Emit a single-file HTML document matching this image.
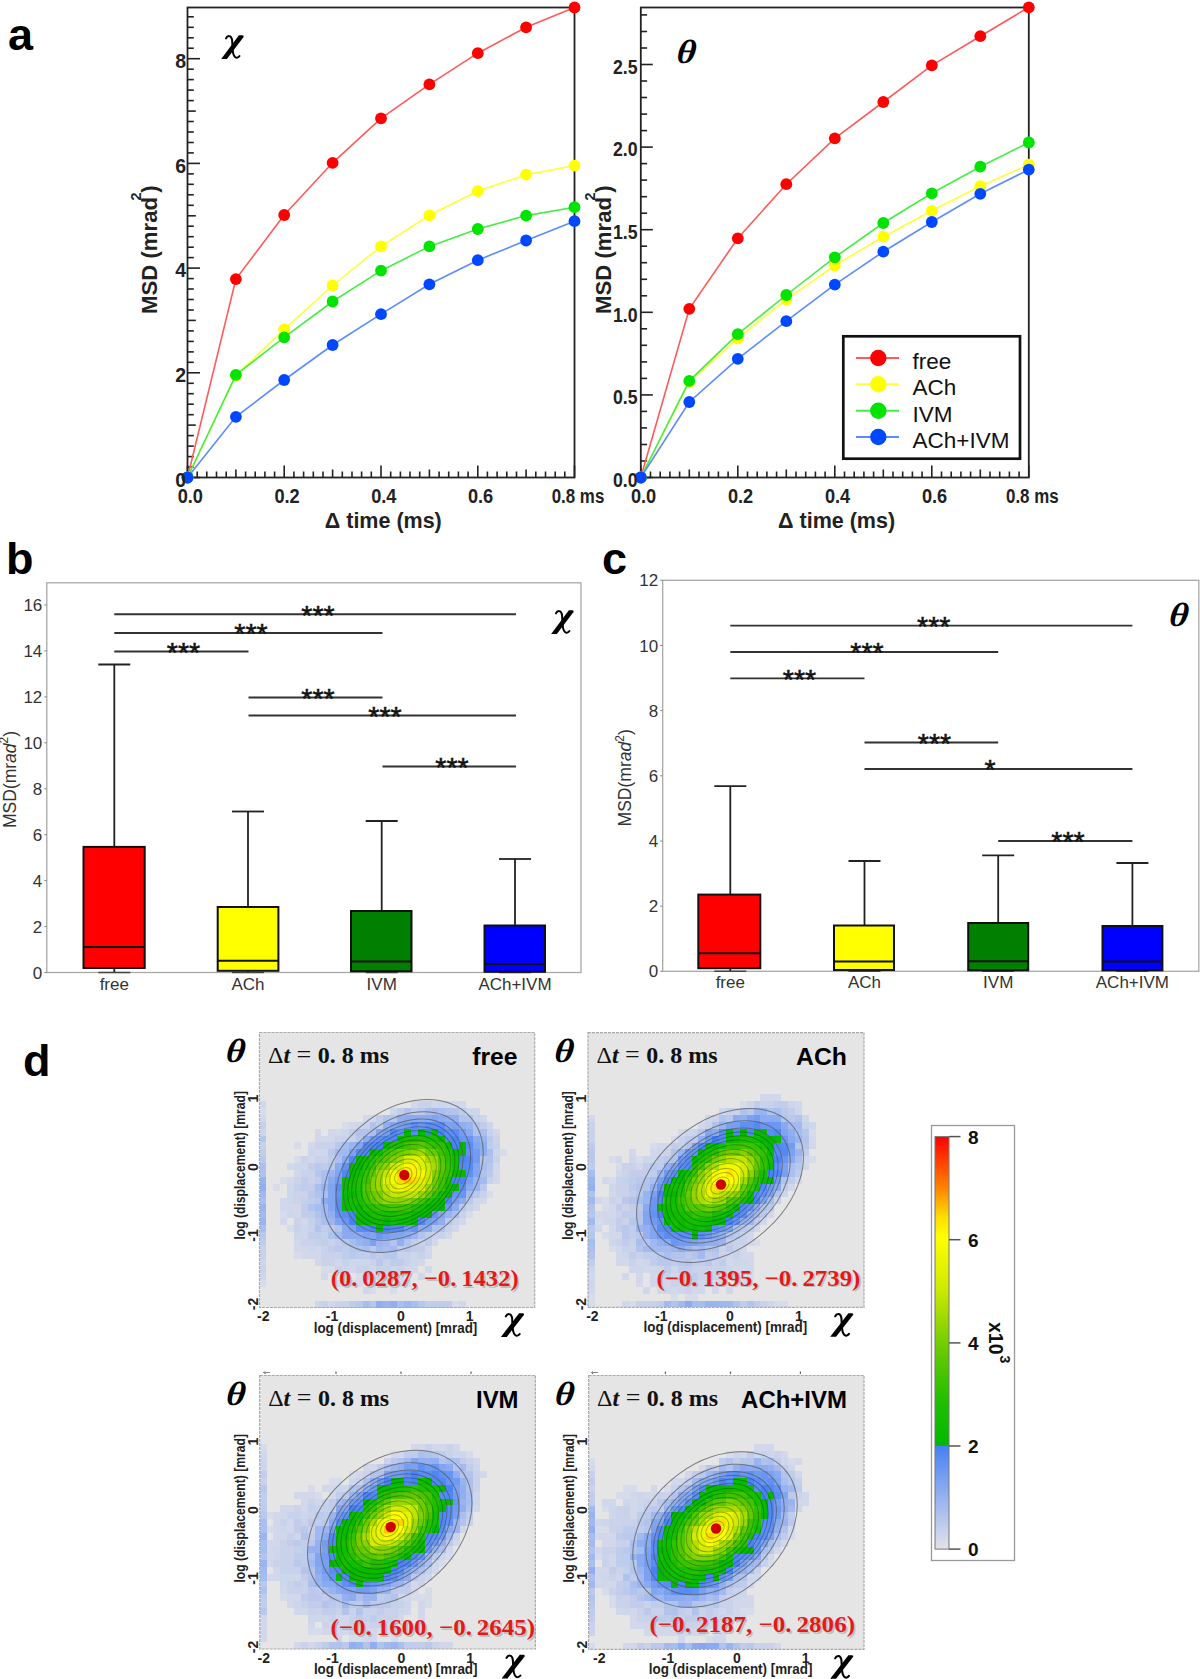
<!DOCTYPE html>
<html><head><meta charset="utf-8"><title>Figure</title>
<style>html,body{margin:0;padding:0;background:#fff;} body{width:1200px;height:1679px;overflow:hidden;position:relative;} svg{position:absolute;left:0;top:0;}</style>
</head><body>
<svg width="1200" height="1679" viewBox="0 0 1200 1679" font-family="'Liberation Sans', sans-serif">
<rect width="1200" height="1679" fill="#fff"/>
<rect x="187.5" y="7.5" width="387.0" height="470.0" fill="none" stroke="#222" stroke-width="1.8"/>
<line x1="187.5" y1="477.5" x2="187.5" y2="465.5" stroke="#222" stroke-width="1.6" />
<line x1="197.2" y1="477.5" x2="197.2" y2="471.5" stroke="#222" stroke-width="1.6" />
<line x1="206.8" y1="477.5" x2="206.8" y2="471.5" stroke="#222" stroke-width="1.6" />
<line x1="216.5" y1="477.5" x2="216.5" y2="471.5" stroke="#222" stroke-width="1.6" />
<line x1="226.2" y1="477.5" x2="226.2" y2="471.5" stroke="#222" stroke-width="1.6" />
<line x1="235.9" y1="477.5" x2="235.9" y2="469.5" stroke="#222" stroke-width="1.6" />
<line x1="245.6" y1="477.5" x2="245.6" y2="471.5" stroke="#222" stroke-width="1.6" />
<line x1="255.2" y1="477.5" x2="255.2" y2="471.5" stroke="#222" stroke-width="1.6" />
<line x1="264.9" y1="477.5" x2="264.9" y2="471.5" stroke="#222" stroke-width="1.6" />
<line x1="274.6" y1="477.5" x2="274.6" y2="471.5" stroke="#222" stroke-width="1.6" />
<line x1="284.2" y1="477.5" x2="284.2" y2="465.5" stroke="#222" stroke-width="1.6" />
<line x1="293.9" y1="477.5" x2="293.9" y2="471.5" stroke="#222" stroke-width="1.6" />
<line x1="303.6" y1="477.5" x2="303.6" y2="471.5" stroke="#222" stroke-width="1.6" />
<line x1="313.3" y1="477.5" x2="313.3" y2="471.5" stroke="#222" stroke-width="1.6" />
<line x1="323.0" y1="477.5" x2="323.0" y2="471.5" stroke="#222" stroke-width="1.6" />
<line x1="332.6" y1="477.5" x2="332.6" y2="469.5" stroke="#222" stroke-width="1.6" />
<line x1="342.3" y1="477.5" x2="342.3" y2="471.5" stroke="#222" stroke-width="1.6" />
<line x1="352.0" y1="477.5" x2="352.0" y2="471.5" stroke="#222" stroke-width="1.6" />
<line x1="361.6" y1="477.5" x2="361.6" y2="471.5" stroke="#222" stroke-width="1.6" />
<line x1="371.3" y1="477.5" x2="371.3" y2="471.5" stroke="#222" stroke-width="1.6" />
<line x1="381.0" y1="477.5" x2="381.0" y2="465.5" stroke="#222" stroke-width="1.6" />
<line x1="390.7" y1="477.5" x2="390.7" y2="471.5" stroke="#222" stroke-width="1.6" />
<line x1="400.4" y1="477.5" x2="400.4" y2="471.5" stroke="#222" stroke-width="1.6" />
<line x1="410.0" y1="477.5" x2="410.0" y2="471.5" stroke="#222" stroke-width="1.6" />
<line x1="419.7" y1="477.5" x2="419.7" y2="471.5" stroke="#222" stroke-width="1.6" />
<line x1="429.4" y1="477.5" x2="429.4" y2="469.5" stroke="#222" stroke-width="1.6" />
<line x1="439.1" y1="477.5" x2="439.1" y2="471.5" stroke="#222" stroke-width="1.6" />
<line x1="448.7" y1="477.5" x2="448.7" y2="471.5" stroke="#222" stroke-width="1.6" />
<line x1="458.4" y1="477.5" x2="458.4" y2="471.5" stroke="#222" stroke-width="1.6" />
<line x1="468.1" y1="477.5" x2="468.1" y2="471.5" stroke="#222" stroke-width="1.6" />
<line x1="477.8" y1="477.5" x2="477.8" y2="465.5" stroke="#222" stroke-width="1.6" />
<line x1="487.4" y1="477.5" x2="487.4" y2="471.5" stroke="#222" stroke-width="1.6" />
<line x1="497.1" y1="477.5" x2="497.1" y2="471.5" stroke="#222" stroke-width="1.6" />
<line x1="506.8" y1="477.5" x2="506.8" y2="471.5" stroke="#222" stroke-width="1.6" />
<line x1="516.5" y1="477.5" x2="516.5" y2="471.5" stroke="#222" stroke-width="1.6" />
<line x1="526.1" y1="477.5" x2="526.1" y2="469.5" stroke="#222" stroke-width="1.6" />
<line x1="535.8" y1="477.5" x2="535.8" y2="471.5" stroke="#222" stroke-width="1.6" />
<line x1="545.5" y1="477.5" x2="545.5" y2="471.5" stroke="#222" stroke-width="1.6" />
<line x1="555.2" y1="477.5" x2="555.2" y2="471.5" stroke="#222" stroke-width="1.6" />
<line x1="564.8" y1="477.5" x2="564.8" y2="471.5" stroke="#222" stroke-width="1.6" />
<line x1="574.5" y1="477.5" x2="574.5" y2="465.5" stroke="#222" stroke-width="1.6" />
<line x1="187.5" y1="477.5" x2="200.0" y2="477.5" stroke="#222" stroke-width="1.6" />
<line x1="187.5" y1="467.0" x2="193.8" y2="467.0" stroke="#222" stroke-width="1.6" />
<line x1="187.5" y1="456.6" x2="193.8" y2="456.6" stroke="#222" stroke-width="1.6" />
<line x1="187.5" y1="446.1" x2="193.8" y2="446.1" stroke="#222" stroke-width="1.6" />
<line x1="187.5" y1="435.6" x2="193.8" y2="435.6" stroke="#222" stroke-width="1.6" />
<line x1="187.5" y1="425.1" x2="195.8" y2="425.1" stroke="#222" stroke-width="1.6" />
<line x1="187.5" y1="414.7" x2="193.8" y2="414.7" stroke="#222" stroke-width="1.6" />
<line x1="187.5" y1="404.2" x2="193.8" y2="404.2" stroke="#222" stroke-width="1.6" />
<line x1="187.5" y1="393.7" x2="193.8" y2="393.7" stroke="#222" stroke-width="1.6" />
<line x1="187.5" y1="383.3" x2="193.8" y2="383.3" stroke="#222" stroke-width="1.6" />
<line x1="187.5" y1="372.8" x2="200.0" y2="372.8" stroke="#222" stroke-width="1.6" />
<line x1="187.5" y1="362.3" x2="193.8" y2="362.3" stroke="#222" stroke-width="1.6" />
<line x1="187.5" y1="351.9" x2="193.8" y2="351.9" stroke="#222" stroke-width="1.6" />
<line x1="187.5" y1="341.4" x2="193.8" y2="341.4" stroke="#222" stroke-width="1.6" />
<line x1="187.5" y1="330.9" x2="193.8" y2="330.9" stroke="#222" stroke-width="1.6" />
<line x1="187.5" y1="320.4" x2="195.8" y2="320.4" stroke="#222" stroke-width="1.6" />
<line x1="187.5" y1="310.0" x2="193.8" y2="310.0" stroke="#222" stroke-width="1.6" />
<line x1="187.5" y1="299.5" x2="193.8" y2="299.5" stroke="#222" stroke-width="1.6" />
<line x1="187.5" y1="289.0" x2="193.8" y2="289.0" stroke="#222" stroke-width="1.6" />
<line x1="187.5" y1="278.6" x2="193.8" y2="278.6" stroke="#222" stroke-width="1.6" />
<line x1="187.5" y1="268.1" x2="200.0" y2="268.1" stroke="#222" stroke-width="1.6" />
<line x1="187.5" y1="257.6" x2="193.8" y2="257.6" stroke="#222" stroke-width="1.6" />
<line x1="187.5" y1="247.2" x2="193.8" y2="247.2" stroke="#222" stroke-width="1.6" />
<line x1="187.5" y1="236.7" x2="193.8" y2="236.7" stroke="#222" stroke-width="1.6" />
<line x1="187.5" y1="226.2" x2="193.8" y2="226.2" stroke="#222" stroke-width="1.6" />
<line x1="187.5" y1="215.8" x2="195.8" y2="215.8" stroke="#222" stroke-width="1.6" />
<line x1="187.5" y1="205.3" x2="193.8" y2="205.3" stroke="#222" stroke-width="1.6" />
<line x1="187.5" y1="194.8" x2="193.8" y2="194.8" stroke="#222" stroke-width="1.6" />
<line x1="187.5" y1="184.3" x2="193.8" y2="184.3" stroke="#222" stroke-width="1.6" />
<line x1="187.5" y1="173.9" x2="193.8" y2="173.9" stroke="#222" stroke-width="1.6" />
<line x1="187.5" y1="163.4" x2="200.0" y2="163.4" stroke="#222" stroke-width="1.6" />
<line x1="187.5" y1="152.9" x2="193.8" y2="152.9" stroke="#222" stroke-width="1.6" />
<line x1="187.5" y1="142.5" x2="193.8" y2="142.5" stroke="#222" stroke-width="1.6" />
<line x1="187.5" y1="132.0" x2="193.8" y2="132.0" stroke="#222" stroke-width="1.6" />
<line x1="187.5" y1="121.5" x2="193.8" y2="121.5" stroke="#222" stroke-width="1.6" />
<line x1="187.5" y1="111.1" x2="195.8" y2="111.1" stroke="#222" stroke-width="1.6" />
<line x1="187.5" y1="100.6" x2="193.8" y2="100.6" stroke="#222" stroke-width="1.6" />
<line x1="187.5" y1="90.1" x2="193.8" y2="90.1" stroke="#222" stroke-width="1.6" />
<line x1="187.5" y1="79.6" x2="193.8" y2="79.6" stroke="#222" stroke-width="1.6" />
<line x1="187.5" y1="69.2" x2="193.8" y2="69.2" stroke="#222" stroke-width="1.6" />
<line x1="187.5" y1="58.7" x2="200.0" y2="58.7" stroke="#222" stroke-width="1.6" />
<line x1="187.5" y1="48.2" x2="193.8" y2="48.2" stroke="#222" stroke-width="1.6" />
<line x1="187.5" y1="37.8" x2="193.8" y2="37.8" stroke="#222" stroke-width="1.6" />
<line x1="187.5" y1="27.3" x2="193.8" y2="27.3" stroke="#222" stroke-width="1.6" />
<line x1="187.5" y1="16.8" x2="193.8" y2="16.8" stroke="#222" stroke-width="1.6" />
<polyline points="187.5,477.5 235.9,279.1 284.2,215.0 332.6,162.8 381.0,118.3 429.4,84.4 477.8,53.2 526.1,27.3 574.5,7.5" fill="none" stroke="#ff5a5a" stroke-width="1.6"/>
<circle cx="187.5" cy="477.5" r="5.9" fill="#ff0000"/>
<circle cx="235.9" cy="279.1" r="5.9" fill="#ff0000"/>
<circle cx="284.2" cy="215.0" r="5.9" fill="#ff0000"/>
<circle cx="332.6" cy="162.8" r="5.9" fill="#ff0000"/>
<circle cx="381.0" cy="118.3" r="5.9" fill="#ff0000"/>
<circle cx="429.4" cy="84.4" r="5.9" fill="#ff0000"/>
<circle cx="477.8" cy="53.2" r="5.9" fill="#ff0000"/>
<circle cx="526.1" cy="27.3" r="5.9" fill="#ff0000"/>
<circle cx="574.5" cy="7.5" r="5.9" fill="#ff0000"/>
<polyline points="187.5,477.5 235.9,375.5 284.2,329.3 332.6,285.5 381.0,246.4 429.4,215.3 477.8,191.1 526.1,174.7 574.5,165.6" fill="none" stroke="#ffff3a" stroke-width="1.6"/>
<circle cx="187.5" cy="477.5" r="5.9" fill="#ffff00"/>
<circle cx="235.9" cy="375.5" r="5.9" fill="#ffff00"/>
<circle cx="284.2" cy="329.3" r="5.9" fill="#ffff00"/>
<circle cx="332.6" cy="285.5" r="5.9" fill="#ffff00"/>
<circle cx="381.0" cy="246.4" r="5.9" fill="#ffff00"/>
<circle cx="429.4" cy="215.3" r="5.9" fill="#ffff00"/>
<circle cx="477.8" cy="191.1" r="5.9" fill="#ffff00"/>
<circle cx="526.1" cy="174.7" r="5.9" fill="#ffff00"/>
<circle cx="574.5" cy="165.6" r="5.9" fill="#ffff00"/>
<polyline points="187.5,477.5 235.9,374.8 284.2,337.3 332.6,301.5 381.0,270.7 429.4,246.4 477.8,229.0 526.1,215.6 574.5,207.2" fill="none" stroke="#44ee44" stroke-width="1.6"/>
<circle cx="187.5" cy="477.5" r="5.9" fill="#00e400"/>
<circle cx="235.9" cy="374.8" r="5.9" fill="#00e400"/>
<circle cx="284.2" cy="337.3" r="5.9" fill="#00e400"/>
<circle cx="332.6" cy="301.5" r="5.9" fill="#00e400"/>
<circle cx="381.0" cy="270.7" r="5.9" fill="#00e400"/>
<circle cx="429.4" cy="246.4" r="5.9" fill="#00e400"/>
<circle cx="477.8" cy="229.0" r="5.9" fill="#00e400"/>
<circle cx="526.1" cy="215.6" r="5.9" fill="#00e400"/>
<circle cx="574.5" cy="207.2" r="5.9" fill="#00e400"/>
<polyline points="187.5,477.5 235.9,416.8 284.2,380.0 332.6,345.0 381.0,314.2 429.4,284.3 477.8,260.2 526.1,240.5 574.5,221.2" fill="none" stroke="#5b8cff" stroke-width="1.6"/>
<circle cx="187.5" cy="477.5" r="5.9" fill="#0048ff"/>
<circle cx="235.9" cy="416.8" r="5.9" fill="#0048ff"/>
<circle cx="284.2" cy="380.0" r="5.9" fill="#0048ff"/>
<circle cx="332.6" cy="345.0" r="5.9" fill="#0048ff"/>
<circle cx="381.0" cy="314.2" r="5.9" fill="#0048ff"/>
<circle cx="429.4" cy="284.3" r="5.9" fill="#0048ff"/>
<circle cx="477.8" cy="260.2" r="5.9" fill="#0048ff"/>
<circle cx="526.1" cy="240.5" r="5.9" fill="#0048ff"/>
<circle cx="574.5" cy="221.2" r="5.9" fill="#0048ff"/>
<text x="186.0" y="486.7" font-size="19.5" text-anchor="end" font-weight="bold" font-style="normal" fill="#222" font-family="'Liberation Sans', sans-serif" >0</text>
<text x="186.0" y="382.0" font-size="19.5" text-anchor="end" font-weight="bold" font-style="normal" fill="#222" font-family="'Liberation Sans', sans-serif" >2</text>
<text x="186.0" y="277.3" font-size="19.5" text-anchor="end" font-weight="bold" font-style="normal" fill="#222" font-family="'Liberation Sans', sans-serif" >4</text>
<text x="186.0" y="172.6" font-size="19.5" text-anchor="end" font-weight="bold" font-style="normal" fill="#222" font-family="'Liberation Sans', sans-serif" >6</text>
<text x="186.0" y="67.9" font-size="19.5" text-anchor="end" font-weight="bold" font-style="normal" fill="#222" font-family="'Liberation Sans', sans-serif" >8</text>
<rect x="640.8" y="7.5" width="388.0" height="470.0" fill="none" stroke="#222" stroke-width="1.8"/>
<line x1="640.8" y1="477.5" x2="640.8" y2="465.5" stroke="#222" stroke-width="1.6" />
<line x1="650.5" y1="477.5" x2="650.5" y2="471.5" stroke="#222" stroke-width="1.6" />
<line x1="660.2" y1="477.5" x2="660.2" y2="471.5" stroke="#222" stroke-width="1.6" />
<line x1="669.9" y1="477.5" x2="669.9" y2="471.5" stroke="#222" stroke-width="1.6" />
<line x1="679.6" y1="477.5" x2="679.6" y2="471.5" stroke="#222" stroke-width="1.6" />
<line x1="689.3" y1="477.5" x2="689.3" y2="469.5" stroke="#222" stroke-width="1.6" />
<line x1="699.0" y1="477.5" x2="699.0" y2="471.5" stroke="#222" stroke-width="1.6" />
<line x1="708.7" y1="477.5" x2="708.7" y2="471.5" stroke="#222" stroke-width="1.6" />
<line x1="718.4" y1="477.5" x2="718.4" y2="471.5" stroke="#222" stroke-width="1.6" />
<line x1="728.1" y1="477.5" x2="728.1" y2="471.5" stroke="#222" stroke-width="1.6" />
<line x1="737.8" y1="477.5" x2="737.8" y2="465.5" stroke="#222" stroke-width="1.6" />
<line x1="747.5" y1="477.5" x2="747.5" y2="471.5" stroke="#222" stroke-width="1.6" />
<line x1="757.2" y1="477.5" x2="757.2" y2="471.5" stroke="#222" stroke-width="1.6" />
<line x1="766.9" y1="477.5" x2="766.9" y2="471.5" stroke="#222" stroke-width="1.6" />
<line x1="776.6" y1="477.5" x2="776.6" y2="471.5" stroke="#222" stroke-width="1.6" />
<line x1="786.3" y1="477.5" x2="786.3" y2="469.5" stroke="#222" stroke-width="1.6" />
<line x1="796.0" y1="477.5" x2="796.0" y2="471.5" stroke="#222" stroke-width="1.6" />
<line x1="805.7" y1="477.5" x2="805.7" y2="471.5" stroke="#222" stroke-width="1.6" />
<line x1="815.4" y1="477.5" x2="815.4" y2="471.5" stroke="#222" stroke-width="1.6" />
<line x1="825.1" y1="477.5" x2="825.1" y2="471.5" stroke="#222" stroke-width="1.6" />
<line x1="834.8" y1="477.5" x2="834.8" y2="465.5" stroke="#222" stroke-width="1.6" />
<line x1="844.5" y1="477.5" x2="844.5" y2="471.5" stroke="#222" stroke-width="1.6" />
<line x1="854.2" y1="477.5" x2="854.2" y2="471.5" stroke="#222" stroke-width="1.6" />
<line x1="863.9" y1="477.5" x2="863.9" y2="471.5" stroke="#222" stroke-width="1.6" />
<line x1="873.6" y1="477.5" x2="873.6" y2="471.5" stroke="#222" stroke-width="1.6" />
<line x1="883.3" y1="477.5" x2="883.3" y2="469.5" stroke="#222" stroke-width="1.6" />
<line x1="893.0" y1="477.5" x2="893.0" y2="471.5" stroke="#222" stroke-width="1.6" />
<line x1="902.7" y1="477.5" x2="902.7" y2="471.5" stroke="#222" stroke-width="1.6" />
<line x1="912.4" y1="477.5" x2="912.4" y2="471.5" stroke="#222" stroke-width="1.6" />
<line x1="922.1" y1="477.5" x2="922.1" y2="471.5" stroke="#222" stroke-width="1.6" />
<line x1="931.8" y1="477.5" x2="931.8" y2="465.5" stroke="#222" stroke-width="1.6" />
<line x1="941.5" y1="477.5" x2="941.5" y2="471.5" stroke="#222" stroke-width="1.6" />
<line x1="951.2" y1="477.5" x2="951.2" y2="471.5" stroke="#222" stroke-width="1.6" />
<line x1="960.9" y1="477.5" x2="960.9" y2="471.5" stroke="#222" stroke-width="1.6" />
<line x1="970.6" y1="477.5" x2="970.6" y2="471.5" stroke="#222" stroke-width="1.6" />
<line x1="980.3" y1="477.5" x2="980.3" y2="469.5" stroke="#222" stroke-width="1.6" />
<line x1="990.0" y1="477.5" x2="990.0" y2="471.5" stroke="#222" stroke-width="1.6" />
<line x1="999.7" y1="477.5" x2="999.7" y2="471.5" stroke="#222" stroke-width="1.6" />
<line x1="1009.4" y1="477.5" x2="1009.4" y2="471.5" stroke="#222" stroke-width="1.6" />
<line x1="1019.1" y1="477.5" x2="1019.1" y2="471.5" stroke="#222" stroke-width="1.6" />
<line x1="1028.8" y1="477.5" x2="1028.8" y2="465.5" stroke="#222" stroke-width="1.6" />
<line x1="640.8" y1="477.5" x2="652.8" y2="477.5" stroke="#222" stroke-width="1.6" />
<line x1="640.8" y1="461.0" x2="647.1" y2="461.0" stroke="#222" stroke-width="1.6" />
<line x1="640.8" y1="444.5" x2="647.1" y2="444.5" stroke="#222" stroke-width="1.6" />
<line x1="640.8" y1="427.9" x2="647.1" y2="427.9" stroke="#222" stroke-width="1.6" />
<line x1="640.8" y1="411.4" x2="647.1" y2="411.4" stroke="#222" stroke-width="1.6" />
<line x1="640.8" y1="394.9" x2="652.8" y2="394.9" stroke="#222" stroke-width="1.6" />
<line x1="640.8" y1="378.4" x2="647.1" y2="378.4" stroke="#222" stroke-width="1.6" />
<line x1="640.8" y1="361.9" x2="647.1" y2="361.9" stroke="#222" stroke-width="1.6" />
<line x1="640.8" y1="345.3" x2="647.1" y2="345.3" stroke="#222" stroke-width="1.6" />
<line x1="640.8" y1="328.8" x2="647.1" y2="328.8" stroke="#222" stroke-width="1.6" />
<line x1="640.8" y1="312.3" x2="652.8" y2="312.3" stroke="#222" stroke-width="1.6" />
<line x1="640.8" y1="295.8" x2="647.1" y2="295.8" stroke="#222" stroke-width="1.6" />
<line x1="640.8" y1="279.3" x2="647.1" y2="279.3" stroke="#222" stroke-width="1.6" />
<line x1="640.8" y1="262.7" x2="647.1" y2="262.7" stroke="#222" stroke-width="1.6" />
<line x1="640.8" y1="246.2" x2="647.1" y2="246.2" stroke="#222" stroke-width="1.6" />
<line x1="640.8" y1="229.7" x2="652.8" y2="229.7" stroke="#222" stroke-width="1.6" />
<line x1="640.8" y1="213.2" x2="647.1" y2="213.2" stroke="#222" stroke-width="1.6" />
<line x1="640.8" y1="196.7" x2="647.1" y2="196.7" stroke="#222" stroke-width="1.6" />
<line x1="640.8" y1="180.1" x2="647.1" y2="180.1" stroke="#222" stroke-width="1.6" />
<line x1="640.8" y1="163.6" x2="647.1" y2="163.6" stroke="#222" stroke-width="1.6" />
<line x1="640.8" y1="147.1" x2="652.8" y2="147.1" stroke="#222" stroke-width="1.6" />
<line x1="640.8" y1="130.6" x2="647.1" y2="130.6" stroke="#222" stroke-width="1.6" />
<line x1="640.8" y1="114.1" x2="647.1" y2="114.1" stroke="#222" stroke-width="1.6" />
<line x1="640.8" y1="97.5" x2="647.1" y2="97.5" stroke="#222" stroke-width="1.6" />
<line x1="640.8" y1="81.0" x2="647.1" y2="81.0" stroke="#222" stroke-width="1.6" />
<line x1="640.8" y1="64.5" x2="652.8" y2="64.5" stroke="#222" stroke-width="1.6" />
<line x1="640.8" y1="48.0" x2="647.1" y2="48.0" stroke="#222" stroke-width="1.6" />
<line x1="640.8" y1="31.5" x2="647.1" y2="31.5" stroke="#222" stroke-width="1.6" />
<line x1="640.8" y1="14.9" x2="647.1" y2="14.9" stroke="#222" stroke-width="1.6" />
<polyline points="640.8,477.5 689.3,308.8 737.8,238.3 786.3,184.2 834.8,138.3 883.3,102.0 931.8,65.4 980.3,36.2 1028.8,7.3" fill="none" stroke="#ff5a5a" stroke-width="1.6"/>
<circle cx="640.8" cy="477.5" r="5.9" fill="#ff0000"/>
<circle cx="689.3" cy="308.8" r="5.9" fill="#ff0000"/>
<circle cx="737.8" cy="238.3" r="5.9" fill="#ff0000"/>
<circle cx="786.3" cy="184.2" r="5.9" fill="#ff0000"/>
<circle cx="834.8" cy="138.3" r="5.9" fill="#ff0000"/>
<circle cx="883.3" cy="102.0" r="5.9" fill="#ff0000"/>
<circle cx="931.8" cy="65.4" r="5.9" fill="#ff0000"/>
<circle cx="980.3" cy="36.2" r="5.9" fill="#ff0000"/>
<circle cx="1028.8" cy="7.3" r="5.9" fill="#ff0000"/>
<polyline points="640.8,477.5 689.3,382.0 737.8,338.3 786.3,299.6 834.8,265.5 883.3,236.7 931.8,210.8 980.3,186.2 1028.8,164.6" fill="none" stroke="#ffff3a" stroke-width="1.6"/>
<circle cx="640.8" cy="477.5" r="5.9" fill="#ffff00"/>
<circle cx="689.3" cy="382.0" r="5.9" fill="#ffff00"/>
<circle cx="737.8" cy="338.3" r="5.9" fill="#ffff00"/>
<circle cx="786.3" cy="299.6" r="5.9" fill="#ffff00"/>
<circle cx="834.8" cy="265.5" r="5.9" fill="#ffff00"/>
<circle cx="883.3" cy="236.7" r="5.9" fill="#ffff00"/>
<circle cx="931.8" cy="210.8" r="5.9" fill="#ffff00"/>
<circle cx="980.3" cy="186.2" r="5.9" fill="#ffff00"/>
<circle cx="1028.8" cy="164.6" r="5.9" fill="#ffff00"/>
<polyline points="640.8,477.5 689.3,380.8 737.8,334.2 786.3,295.0 834.8,257.3 883.3,223.0 931.8,193.3 980.3,166.7 1028.8,142.5" fill="none" stroke="#44ee44" stroke-width="1.6"/>
<circle cx="640.8" cy="477.5" r="5.9" fill="#00e400"/>
<circle cx="689.3" cy="380.8" r="5.9" fill="#00e400"/>
<circle cx="737.8" cy="334.2" r="5.9" fill="#00e400"/>
<circle cx="786.3" cy="295.0" r="5.9" fill="#00e400"/>
<circle cx="834.8" cy="257.3" r="5.9" fill="#00e400"/>
<circle cx="883.3" cy="223.0" r="5.9" fill="#00e400"/>
<circle cx="931.8" cy="193.3" r="5.9" fill="#00e400"/>
<circle cx="980.3" cy="166.7" r="5.9" fill="#00e400"/>
<circle cx="1028.8" cy="142.5" r="5.9" fill="#00e400"/>
<polyline points="640.8,477.5 689.3,402.0 737.8,358.8 786.3,321.2 834.8,284.6 883.3,251.7 931.8,222.0 980.3,193.8 1028.8,169.6" fill="none" stroke="#5b8cff" stroke-width="1.6"/>
<circle cx="640.8" cy="477.5" r="5.9" fill="#0048ff"/>
<circle cx="689.3" cy="402.0" r="5.9" fill="#0048ff"/>
<circle cx="737.8" cy="358.8" r="5.9" fill="#0048ff"/>
<circle cx="786.3" cy="321.2" r="5.9" fill="#0048ff"/>
<circle cx="834.8" cy="284.6" r="5.9" fill="#0048ff"/>
<circle cx="883.3" cy="251.7" r="5.9" fill="#0048ff"/>
<circle cx="931.8" cy="222.0" r="5.9" fill="#0048ff"/>
<circle cx="980.3" cy="193.8" r="5.9" fill="#0048ff"/>
<circle cx="1028.8" cy="169.6" r="5.9" fill="#0048ff"/>
<text x="637.5" y="486.7" font-size="19.5" text-anchor="end" font-weight="bold" font-style="normal" fill="#222" font-family="'Liberation Sans', sans-serif" textLength="24.6" lengthAdjust="spacingAndGlyphs" >0.0</text>
<text x="637.5" y="404.1" font-size="19.5" text-anchor="end" font-weight="bold" font-style="normal" fill="#222" font-family="'Liberation Sans', sans-serif" textLength="24.6" lengthAdjust="spacingAndGlyphs" >0.5</text>
<text x="637.5" y="321.5" font-size="19.5" text-anchor="end" font-weight="bold" font-style="normal" fill="#222" font-family="'Liberation Sans', sans-serif" textLength="24.6" lengthAdjust="spacingAndGlyphs" >1.0</text>
<text x="637.5" y="238.9" font-size="19.5" text-anchor="end" font-weight="bold" font-style="normal" fill="#222" font-family="'Liberation Sans', sans-serif" textLength="24.6" lengthAdjust="spacingAndGlyphs" >1.5</text>
<text x="637.5" y="156.3" font-size="19.5" text-anchor="end" font-weight="bold" font-style="normal" fill="#222" font-family="'Liberation Sans', sans-serif" textLength="24.6" lengthAdjust="spacingAndGlyphs" >2.0</text>
<text x="637.5" y="73.7" font-size="19.5" text-anchor="end" font-weight="bold" font-style="normal" fill="#222" font-family="'Liberation Sans', sans-serif" textLength="24.6" lengthAdjust="spacingAndGlyphs" >2.5</text>
<text x="190.3" y="503.3" font-size="19.5" text-anchor="middle" font-weight="bold" font-style="normal" fill="#222" font-family="'Liberation Sans', sans-serif" textLength="25.3" lengthAdjust="spacingAndGlyphs" >0.0</text>
<text x="287.1" y="503.3" font-size="19.5" text-anchor="middle" font-weight="bold" font-style="normal" fill="#222" font-family="'Liberation Sans', sans-serif" textLength="25.3" lengthAdjust="spacingAndGlyphs" >0.2</text>
<text x="383.8" y="503.3" font-size="19.5" text-anchor="middle" font-weight="bold" font-style="normal" fill="#222" font-family="'Liberation Sans', sans-serif" textLength="25.3" lengthAdjust="spacingAndGlyphs" >0.4</text>
<text x="480.6" y="503.3" font-size="19.5" text-anchor="middle" font-weight="bold" font-style="normal" fill="#222" font-family="'Liberation Sans', sans-serif" textLength="25.3" lengthAdjust="spacingAndGlyphs" >0.6</text>
<text x="578.0" y="503.3" font-size="19.5" text-anchor="middle" font-weight="bold" font-style="normal" fill="#222" font-family="'Liberation Sans', sans-serif" textLength="52.6" lengthAdjust="spacingAndGlyphs" >0.8 ms</text>
<text x="324.8" y="528.1" font-size="21.5" text-anchor="start" font-weight="bold" font-style="normal" fill="#222" font-family="'Liberation Sans', sans-serif" textLength="117" lengthAdjust="spacingAndGlyphs" >&#916; time (ms)</text>
<text x="643.6" y="503.3" font-size="19.5" text-anchor="middle" font-weight="bold" font-style="normal" fill="#222" font-family="'Liberation Sans', sans-serif" textLength="25.3" lengthAdjust="spacingAndGlyphs" >0.0</text>
<text x="740.6" y="503.3" font-size="19.5" text-anchor="middle" font-weight="bold" font-style="normal" fill="#222" font-family="'Liberation Sans', sans-serif" textLength="25.3" lengthAdjust="spacingAndGlyphs" >0.2</text>
<text x="837.6" y="503.3" font-size="19.5" text-anchor="middle" font-weight="bold" font-style="normal" fill="#222" font-family="'Liberation Sans', sans-serif" textLength="25.3" lengthAdjust="spacingAndGlyphs" >0.4</text>
<text x="934.6" y="503.3" font-size="19.5" text-anchor="middle" font-weight="bold" font-style="normal" fill="#222" font-family="'Liberation Sans', sans-serif" textLength="25.3" lengthAdjust="spacingAndGlyphs" >0.6</text>
<text x="1032.3" y="503.3" font-size="19.5" text-anchor="middle" font-weight="bold" font-style="normal" fill="#222" font-family="'Liberation Sans', sans-serif" textLength="52.6" lengthAdjust="spacingAndGlyphs" >0.8 ms</text>
<text x="778.1" y="528.1" font-size="21.5" text-anchor="start" font-weight="bold" font-style="normal" fill="#222" font-family="'Liberation Sans', sans-serif" textLength="117" lengthAdjust="spacingAndGlyphs" >&#916; time (ms)</text>
<text transform="translate(156.6,314) rotate(-90)" font-size="22.2" font-weight="bold" text-anchor="start" font-family="'Liberation Sans', sans-serif" fill="#222">MSD (mrad<tspan dx="-3.5" dy="-16" font-size="14.5">2</tspan><tspan dx="-0.5" dy="16">)</tspan></text>
<text transform="translate(610.6,314) rotate(-90)" font-size="22.2" font-weight="bold" text-anchor="start" font-family="'Liberation Sans', sans-serif" fill="#222">MSD (mrad<tspan dx="-3.5" dy="-16" font-size="14.5">2</tspan><tspan dx="-0.5" dy="16">)</tspan></text>
<g transform="translate(221.30,35.00) scale(1.000,1.000) translate(-221.3,-35)"><path d="M221.2 58.9 L226.9 58.9 L243.4 37.2 Q244.3 35.3 242.3 35.3 L238.9 35.3 Z" fill="#000"/><path d="M226 38.4 C227.2 35.6 231.2 34.6 232.1 40 L232.7 50 C233.3 57.6 236.8 59.6 239.5 56" stroke="#000" stroke-width="2.0" stroke-linecap="round" fill="none"/></g>
<text transform="translate(676.00,62.60) skewX(-6) scale(1.1,1)" font-size="33.5" font-weight="bold" font-style="italic" font-family="'Liberation Serif', serif" fill="#000">&#952;</text>
<rect x="843.3" y="336.3" width="176.7" height="122.4" fill="#fff" stroke="#111" stroke-width="2.7"/>
<line x1="856.0" y1="358.0" x2="899.0" y2="358.0" stroke="#ff5a5a" stroke-width="2" />
<circle cx="878.3" cy="358" r="8.2" fill="#ff0000"/>
<text x="912.5" y="369.2" font-size="22.5" text-anchor="start" font-weight="normal" font-style="normal" fill="#111" font-family="'Liberation Sans', sans-serif" >free</text>
<line x1="856.0" y1="384.3" x2="899.0" y2="384.3" stroke="#ffff3a" stroke-width="2" />
<circle cx="878.3" cy="384.3" r="8.2" fill="#ffff00"/>
<text x="912.5" y="395.3" font-size="22.5" text-anchor="start" font-weight="normal" font-style="normal" fill="#111" font-family="'Liberation Sans', sans-serif" >ACh</text>
<line x1="856.0" y1="410.8" x2="899.0" y2="410.8" stroke="#44ee44" stroke-width="2" />
<circle cx="878.3" cy="410.8" r="8.2" fill="#00e400"/>
<text x="912.5" y="421.7" font-size="22.5" text-anchor="start" font-weight="normal" font-style="normal" fill="#111" font-family="'Liberation Sans', sans-serif" >IVM</text>
<line x1="856.0" y1="437.0" x2="899.0" y2="437.0" stroke="#5b8cff" stroke-width="2" />
<circle cx="878.3" cy="437" r="8.2" fill="#0048ff"/>
<text x="912.5" y="448.0" font-size="22.5" text-anchor="start" font-weight="normal" font-style="normal" fill="#111" font-family="'Liberation Sans', sans-serif" >ACh+IVM</text>
<text x="8.0" y="50.0" font-size="45" text-anchor="start" font-weight="bold" font-style="normal" fill="#000" font-family="'Liberation Sans', sans-serif" >a</text>
<text x="6.0" y="574.0" font-size="45" text-anchor="start" font-weight="bold" font-style="normal" fill="#000" font-family="'Liberation Sans', sans-serif" >b</text>
<text x="602.0" y="574.0" font-size="45" text-anchor="start" font-weight="bold" font-style="normal" fill="#000" font-family="'Liberation Sans', sans-serif" >c</text>
<text x="23.0" y="1076.0" font-size="45" text-anchor="start" font-weight="bold" font-style="normal" fill="#000" font-family="'Liberation Sans', sans-serif" >d</text>
<rect x="46.8" y="582.8" width="534.2" height="389.70000000000005" fill="none" stroke="#a8a8a8" stroke-width="1.3"/>
<line x1="44.3" y1="972.5" x2="46.8" y2="972.5" stroke="#888" stroke-width="1" />
<text x="42.3" y="978.6" font-size="17" text-anchor="end" font-weight="normal" font-style="normal" fill="#333" font-family="'Liberation Sans', sans-serif" >0</text>
<line x1="44.3" y1="926.6" x2="46.8" y2="926.6" stroke="#888" stroke-width="1" />
<text x="42.3" y="932.7" font-size="17" text-anchor="end" font-weight="normal" font-style="normal" fill="#333" font-family="'Liberation Sans', sans-serif" >2</text>
<line x1="44.3" y1="880.6" x2="46.8" y2="880.6" stroke="#888" stroke-width="1" />
<text x="42.3" y="886.7" font-size="17" text-anchor="end" font-weight="normal" font-style="normal" fill="#333" font-family="'Liberation Sans', sans-serif" >4</text>
<line x1="44.3" y1="834.7" x2="46.8" y2="834.7" stroke="#888" stroke-width="1" />
<text x="42.3" y="840.8" font-size="17" text-anchor="end" font-weight="normal" font-style="normal" fill="#333" font-family="'Liberation Sans', sans-serif" >6</text>
<line x1="44.3" y1="788.8" x2="46.8" y2="788.8" stroke="#888" stroke-width="1" />
<text x="42.3" y="794.9" font-size="17" text-anchor="end" font-weight="normal" font-style="normal" fill="#333" font-family="'Liberation Sans', sans-serif" >8</text>
<line x1="44.3" y1="742.8" x2="46.8" y2="742.8" stroke="#888" stroke-width="1" />
<text x="42.3" y="748.9" font-size="17" text-anchor="end" font-weight="normal" font-style="normal" fill="#333" font-family="'Liberation Sans', sans-serif" >10</text>
<line x1="44.3" y1="696.9" x2="46.8" y2="696.9" stroke="#888" stroke-width="1" />
<text x="42.3" y="703.0" font-size="17" text-anchor="end" font-weight="normal" font-style="normal" fill="#333" font-family="'Liberation Sans', sans-serif" >12</text>
<line x1="44.3" y1="650.9" x2="46.8" y2="650.9" stroke="#888" stroke-width="1" />
<text x="42.3" y="657.0" font-size="17" text-anchor="end" font-weight="normal" font-style="normal" fill="#333" font-family="'Liberation Sans', sans-serif" >14</text>
<line x1="44.3" y1="605.0" x2="46.8" y2="605.0" stroke="#888" stroke-width="1" />
<text x="42.3" y="611.1" font-size="17" text-anchor="end" font-weight="normal" font-style="normal" fill="#333" font-family="'Liberation Sans', sans-serif" >16</text>
<line x1="114.3" y1="664.5" x2="114.3" y2="846.9" stroke="#222" stroke-width="1.8" />
<line x1="98.3" y1="664.5" x2="130.3" y2="664.5" stroke="#222" stroke-width="1.8" />
<line x1="114.3" y1="968.0" x2="114.3" y2="972.5" stroke="#222" stroke-width="1.8" />
<line x1="98.3" y1="972.5" x2="130.3" y2="972.5" stroke="#444" stroke-width="1.5" />
<rect x="83.5" y="846.9" width="61.19999999999999" height="121.10000000000002" fill="#ff0000" stroke="#111" stroke-width="2"/>
<line x1="83.5" y1="947.0" x2="144.7" y2="947.0" stroke="#111" stroke-width="2" />
<text x="114.3" y="989.5" font-size="17" text-anchor="middle" font-weight="normal" font-style="normal" fill="#333" font-family="'Liberation Sans', sans-serif" >free</text>
<line x1="248.0" y1="811.5" x2="248.0" y2="907.0" stroke="#222" stroke-width="1.8" />
<line x1="232.0" y1="811.5" x2="264.0" y2="811.5" stroke="#222" stroke-width="1.8" />
<line x1="248.0" y1="970.8" x2="248.0" y2="972.5" stroke="#222" stroke-width="1.8" />
<line x1="232.0" y1="972.5" x2="264.0" y2="972.5" stroke="#444" stroke-width="1.5" />
<rect x="217.7" y="907" width="60.69999999999999" height="63.799999999999955" fill="#ffff00" stroke="#111" stroke-width="2"/>
<line x1="217.7" y1="960.7" x2="278.4" y2="960.7" stroke="#111" stroke-width="2" />
<text x="248.0" y="989.5" font-size="17" text-anchor="middle" font-weight="normal" font-style="normal" fill="#333" font-family="'Liberation Sans', sans-serif" >ACh</text>
<line x1="381.7" y1="821.0" x2="381.7" y2="911.0" stroke="#222" stroke-width="1.8" />
<line x1="365.7" y1="821.0" x2="397.7" y2="821.0" stroke="#222" stroke-width="1.8" />
<line x1="381.7" y1="971.3" x2="381.7" y2="972.5" stroke="#222" stroke-width="1.8" />
<line x1="365.7" y1="972.5" x2="397.7" y2="972.5" stroke="#444" stroke-width="1.5" />
<rect x="351" y="911" width="60.5" height="60.299999999999955" fill="#007f00" stroke="#111" stroke-width="2"/>
<line x1="351.0" y1="961.5" x2="411.5" y2="961.5" stroke="#111" stroke-width="2" />
<text x="381.7" y="989.5" font-size="17" text-anchor="middle" font-weight="normal" font-style="normal" fill="#333" font-family="'Liberation Sans', sans-serif" >IVM</text>
<line x1="515.0" y1="859.0" x2="515.0" y2="925.5" stroke="#222" stroke-width="1.8" />
<line x1="499.0" y1="859.0" x2="531.0" y2="859.0" stroke="#222" stroke-width="1.8" />
<line x1="515.0" y1="971.8" x2="515.0" y2="972.5" stroke="#222" stroke-width="1.8" />
<line x1="499.0" y1="972.5" x2="531.0" y2="972.5" stroke="#444" stroke-width="1.5" />
<rect x="484.5" y="925.5" width="60.5" height="46.299999999999955" fill="#0000ff" stroke="#111" stroke-width="2"/>
<line x1="484.5" y1="964.0" x2="545.0" y2="964.0" stroke="#111" stroke-width="2" />
<text x="515.0" y="989.5" font-size="17" text-anchor="middle" font-weight="normal" font-style="normal" fill="#333" font-family="'Liberation Sans', sans-serif" >ACh+IVM</text>
<line x1="114.3" y1="614.2" x2="516.0" y2="614.2" stroke="#333" stroke-width="1.9" />
<text x="318.0" y="624.5" font-size="28.5" text-anchor="middle" fill="#111" stroke="#111" stroke-width="0.5" font-family="'Liberation Sans', sans-serif">***</text>
<line x1="114.3" y1="633.0" x2="382.5" y2="633.0" stroke="#333" stroke-width="1.9" />
<text x="251.0" y="643.3" font-size="28.5" text-anchor="middle" fill="#111" stroke="#111" stroke-width="0.5" font-family="'Liberation Sans', sans-serif">***</text>
<line x1="114.3" y1="651.5" x2="248.5" y2="651.5" stroke="#333" stroke-width="1.9" />
<text x="183.5" y="661.8" font-size="28.5" text-anchor="middle" fill="#111" stroke="#111" stroke-width="0.5" font-family="'Liberation Sans', sans-serif">***</text>
<line x1="248.5" y1="697.5" x2="382.5" y2="697.5" stroke="#333" stroke-width="1.9" />
<text x="318.0" y="707.8" font-size="28.5" text-anchor="middle" fill="#111" stroke="#111" stroke-width="0.5" font-family="'Liberation Sans', sans-serif">***</text>
<line x1="248.5" y1="715.5" x2="516.0" y2="715.5" stroke="#333" stroke-width="1.9" />
<text x="385.0" y="725.8" font-size="28.5" text-anchor="middle" fill="#111" stroke="#111" stroke-width="0.5" font-family="'Liberation Sans', sans-serif">***</text>
<line x1="382.5" y1="766.5" x2="516.0" y2="766.5" stroke="#333" stroke-width="1.9" />
<text x="452.0" y="776.8" font-size="28.5" text-anchor="middle" fill="#111" stroke="#111" stroke-width="0.5" font-family="'Liberation Sans', sans-serif">***</text>
<g transform="translate(551.25,610.00) scale(1.000,1.000) translate(-221.3,-35)"><path d="M221.2 58.9 L226.9 58.9 L243.4 37.2 Q244.3 35.3 242.3 35.3 L238.9 35.3 Z" fill="#000"/><path d="M226 38.4 C227.2 35.6 231.2 34.6 232.1 40 L232.7 50 C233.3 57.6 236.8 59.6 239.5 56" stroke="#000" stroke-width="2.0" stroke-linecap="round" fill="none"/></g>
<text transform="translate(15.7,828) rotate(-90)" font-size="17.5" text-anchor="start" font-family="'Liberation Sans', sans-serif" fill="#333">MSD(mr<tspan font-style="italic">ad</tspan><tspan dy="-7.5" font-size="12">2</tspan><tspan dy="7.5">)</tspan></text>
<rect x="662.7" y="580.3" width="536.0999999999999" height="391.0" fill="none" stroke="#a8a8a8" stroke-width="1.3"/>
<line x1="660.2" y1="971.3" x2="662.7" y2="971.3" stroke="#888" stroke-width="1" />
<text x="658.2" y="977.4" font-size="17" text-anchor="end" font-weight="normal" font-style="normal" fill="#333" font-family="'Liberation Sans', sans-serif" >0</text>
<line x1="660.2" y1="906.1" x2="662.7" y2="906.1" stroke="#888" stroke-width="1" />
<text x="658.2" y="912.2" font-size="17" text-anchor="end" font-weight="normal" font-style="normal" fill="#333" font-family="'Liberation Sans', sans-serif" >2</text>
<line x1="660.2" y1="841.0" x2="662.7" y2="841.0" stroke="#888" stroke-width="1" />
<text x="658.2" y="847.1" font-size="17" text-anchor="end" font-weight="normal" font-style="normal" fill="#333" font-family="'Liberation Sans', sans-serif" >4</text>
<line x1="660.2" y1="775.8" x2="662.7" y2="775.8" stroke="#888" stroke-width="1" />
<text x="658.2" y="781.9" font-size="17" text-anchor="end" font-weight="normal" font-style="normal" fill="#333" font-family="'Liberation Sans', sans-serif" >6</text>
<line x1="660.2" y1="710.6" x2="662.7" y2="710.6" stroke="#888" stroke-width="1" />
<text x="658.2" y="716.7" font-size="17" text-anchor="end" font-weight="normal" font-style="normal" fill="#333" font-family="'Liberation Sans', sans-serif" >8</text>
<line x1="660.2" y1="645.5" x2="662.7" y2="645.5" stroke="#888" stroke-width="1" />
<text x="658.2" y="651.6" font-size="17" text-anchor="end" font-weight="normal" font-style="normal" fill="#333" font-family="'Liberation Sans', sans-serif" >10</text>
<line x1="660.2" y1="580.3" x2="662.7" y2="580.3" stroke="#888" stroke-width="1" />
<text x="658.2" y="586.4" font-size="17" text-anchor="end" font-weight="normal" font-style="normal" fill="#333" font-family="'Liberation Sans', sans-serif" >12</text>
<line x1="730.3" y1="786.2" x2="730.3" y2="894.6" stroke="#222" stroke-width="1.8" />
<line x1="714.3" y1="786.2" x2="746.3" y2="786.2" stroke="#222" stroke-width="1.8" />
<line x1="730.3" y1="968.2" x2="730.3" y2="971.3" stroke="#222" stroke-width="1.8" />
<line x1="714.3" y1="971.3" x2="746.3" y2="971.3" stroke="#444" stroke-width="1.5" />
<rect x="698.3" y="894.6" width="62.0" height="73.60000000000002" fill="#ff0000" stroke="#111" stroke-width="2"/>
<line x1="698.3" y1="953.2" x2="760.3" y2="953.2" stroke="#111" stroke-width="2" />
<text x="730.3" y="988.3" font-size="17" text-anchor="middle" font-weight="normal" font-style="normal" fill="#333" font-family="'Liberation Sans', sans-serif" >free</text>
<line x1="864.5" y1="861.0" x2="864.5" y2="925.5" stroke="#222" stroke-width="1.8" />
<line x1="848.5" y1="861.0" x2="880.5" y2="861.0" stroke="#222" stroke-width="1.8" />
<line x1="864.5" y1="970.0" x2="864.5" y2="971.3" stroke="#222" stroke-width="1.8" />
<line x1="848.5" y1="971.3" x2="880.5" y2="971.3" stroke="#444" stroke-width="1.5" />
<rect x="834" y="925.5" width="60" height="44.5" fill="#ffff00" stroke="#111" stroke-width="2"/>
<line x1="834.0" y1="961.6" x2="894.0" y2="961.6" stroke="#111" stroke-width="2" />
<text x="864.5" y="988.3" font-size="17" text-anchor="middle" font-weight="normal" font-style="normal" fill="#333" font-family="'Liberation Sans', sans-serif" >ACh</text>
<line x1="998.2" y1="855.4" x2="998.2" y2="923.0" stroke="#222" stroke-width="1.8" />
<line x1="982.2" y1="855.4" x2="1014.2" y2="855.4" stroke="#222" stroke-width="1.8" />
<line x1="998.2" y1="970.3" x2="998.2" y2="971.3" stroke="#222" stroke-width="1.8" />
<line x1="982.2" y1="971.3" x2="1014.2" y2="971.3" stroke="#444" stroke-width="1.5" />
<rect x="968.2" y="923" width="60.0" height="47.299999999999955" fill="#007f00" stroke="#111" stroke-width="2"/>
<line x1="968.2" y1="961.2" x2="1028.2" y2="961.2" stroke="#111" stroke-width="2" />
<text x="998.2" y="988.3" font-size="17" text-anchor="middle" font-weight="normal" font-style="normal" fill="#333" font-family="'Liberation Sans', sans-serif" >IVM</text>
<line x1="1132.4" y1="863.0" x2="1132.4" y2="926.0" stroke="#222" stroke-width="1.8" />
<line x1="1116.4" y1="863.0" x2="1148.4" y2="863.0" stroke="#222" stroke-width="1.8" />
<line x1="1132.4" y1="970.3" x2="1132.4" y2="971.3" stroke="#222" stroke-width="1.8" />
<line x1="1116.4" y1="971.3" x2="1148.4" y2="971.3" stroke="#444" stroke-width="1.5" />
<rect x="1102.5" y="926" width="59.90000000000009" height="44.299999999999955" fill="#0000ff" stroke="#111" stroke-width="2"/>
<line x1="1102.5" y1="961.6" x2="1162.4" y2="961.6" stroke="#111" stroke-width="2" />
<text x="1132.4" y="988.3" font-size="17" text-anchor="middle" font-weight="normal" font-style="normal" fill="#333" font-family="'Liberation Sans', sans-serif" >ACh+IVM</text>
<line x1="730.3" y1="625.6" x2="1132.4" y2="625.6" stroke="#333" stroke-width="1.9" />
<text x="933.7" y="635.9" font-size="28.5" text-anchor="middle" fill="#111" stroke="#111" stroke-width="0.5" font-family="'Liberation Sans', sans-serif">***</text>
<line x1="730.3" y1="652.0" x2="998.2" y2="652.0" stroke="#333" stroke-width="1.9" />
<text x="867.0" y="662.3" font-size="28.5" text-anchor="middle" fill="#111" stroke="#111" stroke-width="0.5" font-family="'Liberation Sans', sans-serif">***</text>
<line x1="730.3" y1="678.4" x2="864.5" y2="678.4" stroke="#333" stroke-width="1.9" />
<text x="799.5" y="688.7" font-size="28.5" text-anchor="middle" fill="#111" stroke="#111" stroke-width="0.5" font-family="'Liberation Sans', sans-serif">***</text>
<line x1="864.5" y1="742.5" x2="998.2" y2="742.5" stroke="#333" stroke-width="1.9" />
<text x="934.5" y="752.8" font-size="28.5" text-anchor="middle" fill="#111" stroke="#111" stroke-width="0.5" font-family="'Liberation Sans', sans-serif">***</text>
<line x1="864.5" y1="769.0" x2="1132.4" y2="769.0" stroke="#333" stroke-width="1.9" />
<text x="990.0" y="779.3" font-size="28.5" text-anchor="middle" fill="#111" stroke="#111" stroke-width="0.5" font-family="'Liberation Sans', sans-serif">*</text>
<line x1="998.2" y1="841.0" x2="1132.4" y2="841.0" stroke="#333" stroke-width="1.9" />
<text x="1068.0" y="851.3" font-size="28.5" text-anchor="middle" fill="#111" stroke="#111" stroke-width="0.5" font-family="'Liberation Sans', sans-serif">***</text>
<text transform="translate(1168.40,625.50) skewX(-6) scale(1.1,1)" font-size="33.5" font-weight="bold" font-style="italic" font-family="'Liberation Serif', serif" fill="#000">&#952;</text>
<text transform="translate(631.3,826.4) rotate(-90)" font-size="17.5" text-anchor="start" font-family="'Liberation Sans', sans-serif" fill="#333">MSD(mr<tspan font-style="italic">ad</tspan><tspan dy="-7.5" font-size="12">2</tspan><tspan dy="7.5">)</tspan></text>
<rect x="259.5" y="1032.5" width="275.20000000000005" height="275.0" fill="#e5e5e5"/>
<path fill="#d2d7eb" shape-rendering="crispEdges" d="M260 1101h6v7h-6zM411 1101h7v7h-7zM432 1101h6v7h-6zM445 1101h21v7h-21zM260 1115h6v7h-6zM363 1115h13v7h-13zM349 1122h7v7h-7zM315 1129h6v7h-6zM328 1129h14v7h-14zM493 1129h7v7h-7zM315 1136h20v6h-20zM308 1142h7v7h-7zM315 1149h6v7h-6zM308 1156h7v7h-7zM287 1163h7v7h-7zM493 1163h7v7h-7zM294 1170h7v7h-7zM493 1170h7v7h-7zM287 1177h7v7h-7zM493 1177h7v7h-7zM280 1198h7v6h-7zM480 1198h7v6h-7zM280 1204h21v7h-21zM473 1204h7v7h-7zM294 1211h7v7h-7zM280 1218h7v7h-7zM301 1218h7v7h-7zM459 1218h7v7h-7zM452 1225h7v7h-7zM445 1232h7v7h-7zM294 1239h7v7h-7zM432 1239h6v7h-6zM294 1246h14v6h-14zM315 1246h6v6h-6zM425 1246h7v6h-7zM301 1252h20v7h-20zM425 1252h7v7h-7zM315 1259h6v7h-6zM335 1259h7v7h-7zM418 1259h7v7h-7zM349 1266h7v7h-7zM370 1266h6v7h-6zM404 1266h14v7h-14zM425 1266h7v7h-7zM321 1273h7v7h-7zM342 1273h7v7h-7zM383 1273h7v7h-7zM397 1273h7v7h-7zM418 1273h7v7h-7zM397 1280h7v7h-7zM363 1287h7v7h-7zM328 1301h7v7h-7zM459 1301h7v7h-7z"/>
<path fill="#c8d2eb" shape-rendering="crispEdges" d="M418 1101h14v7h-14zM473 1115h7v7h-7zM363 1122h7v7h-7zM487 1129h6v7h-6zM342 1136h14v6h-14zM260 1142h6v7h-6zM321 1142h14v7h-14zM493 1142h7v7h-7zM315 1156h6v7h-6zM301 1170h14v7h-14zM308 1177h7v7h-7zM487 1177h6v7h-6zM480 1191h7v7h-7zM466 1204h7v7h-7zM459 1211h7v7h-7zM452 1218h7v7h-7zM294 1225h7v7h-7zM308 1225h7v7h-7zM445 1225h7v7h-7zM438 1232h7v7h-7zM328 1239h7v7h-7zM418 1239h7v7h-7zM260 1246h6v6h-6zM321 1246h7v6h-7zM260 1252h6v7h-6zM321 1252h21v7h-21zM397 1252h14v7h-14zM418 1252h7v7h-7zM342 1259h7v7h-7zM383 1259h7v7h-7zM335 1266h7v7h-7zM356 1266h14v7h-14zM376 1266h14v7h-14zM321 1301h7v7h-7zM342 1301h7v7h-7z"/>
<path fill="#cdd7eb" shape-rendering="crispEdges" d="M438 1101h7v7h-7zM390 1108h7v7h-7zM466 1108h14v7h-14zM480 1115h7v7h-7zM356 1122h7v7h-7zM487 1122h6v7h-6zM260 1129h6v7h-6zM342 1129h7v7h-7zM308 1149h7v7h-7zM321 1149h7v7h-7zM493 1149h7v7h-7zM294 1163h14v7h-14zM287 1184h7v7h-7zM287 1191h7v7h-7zM287 1198h7v6h-7zM473 1198h7v6h-7zM287 1211h7v7h-7zM301 1225h7v7h-7zM294 1232h14v7h-14zM308 1246h7v6h-7zM411 1252h7v7h-7zM260 1259h6v7h-6zM349 1259h21v7h-21zM411 1259h7v7h-7zM342 1266h7v7h-7zM390 1266h7v7h-7zM260 1273h6v7h-6zM363 1273h20v7h-20zM390 1273h7v7h-7zM370 1280h6v7h-6zM315 1301h6v7h-6z"/>
<path fill="#d7dceb" shape-rendering="crispEdges" d="M260 1108h6v7h-6zM342 1122h7v7h-7zM294 1142h7v7h-7zM500 1149h7v7h-7zM294 1156h7v7h-7zM280 1177h7v7h-7zM273 1184h7v7h-7zM487 1191h6v7h-6zM280 1211h7v7h-7zM466 1211h7v7h-7zM287 1225h7v7h-7zM294 1252h7v7h-7zM321 1266h14v7h-14zM356 1273h7v7h-7zM260 1280h6v7h-6zM335 1280h28v7h-28zM383 1280h7v7h-7zM404 1280h7v7h-7zM370 1287h6v7h-6zM390 1287h7v7h-7zM452 1301h7v7h-7z"/>
<path fill="#c3cdeb" shape-rendering="crispEdges" d="M397 1108h7v7h-7zM376 1115h7v7h-7zM480 1122h7v7h-7zM349 1129h7v7h-7zM260 1149h6v7h-6zM308 1163h7v7h-7zM301 1177h7v7h-7zM315 1177h6v7h-6zM308 1184h7v7h-7zM301 1204h7v7h-7zM301 1211h7v7h-7zM321 1225h7v7h-7zM308 1232h7v7h-7zM425 1232h7v7h-7zM321 1239h7v7h-7zM335 1239h7v7h-7zM411 1239h7v7h-7zM328 1246h7v6h-7zM411 1246h14v6h-14zM363 1252h7v7h-7zM425 1301h7v7h-7zM445 1301h7v7h-7z"/>
<path fill="#b4c3eb" shape-rendering="crispEdges" d="M404 1108h7v7h-7zM452 1108h7v7h-7zM383 1115h7v7h-7zM459 1115h14v7h-14zM370 1122h6v7h-6zM473 1122h7v7h-7zM356 1129h14v7h-14zM480 1156h7v7h-7zM315 1225h6v7h-6zM438 1225h7v7h-7zM390 1239h7v7h-7z"/>
<path fill="#becdeb" shape-rendering="crispEdges" d="M411 1108h7v7h-7zM459 1108h7v7h-7zM376 1122h7v7h-7zM487 1142h6v7h-6zM328 1156h7v7h-7zM321 1163h7v7h-7zM301 1184h7v7h-7zM308 1198h7v6h-7zM308 1211h7v7h-7zM315 1232h6v7h-6zM260 1239h6v7h-6zM425 1239h7v7h-7zM342 1246h7v6h-7zM397 1246h7v6h-7zM342 1252h7v7h-7zM356 1252h7v7h-7zM376 1252h7v7h-7zM390 1259h14v7h-14zM349 1301h7v7h-7zM432 1301h13v7h-13z"/>
<path fill="#bec8eb" shape-rendering="crispEdges" d="M418 1108h7v7h-7zM487 1170h6v7h-6zM308 1191h7v7h-7z"/>
<path fill="#aabef0" shape-rendering="crispEdges" d="M425 1108h7v7h-7zM438 1108h7v7h-7zM370 1129h6v7h-6zM480 1129h7v7h-7zM487 1149h6v7h-6zM480 1163h7v7h-7zM321 1170h7v7h-7zM321 1177h7v7h-7zM315 1184h6v7h-6zM321 1191h7v7h-7zM260 1198h6v6h-6zM452 1211h7v7h-7zM321 1218h7v7h-7zM260 1225h6v7h-6zM383 1246h7v6h-7zM397 1301h7v7h-7z"/>
<path fill="#a5b9f0" shape-rendering="crispEdges" d="M432 1108h6v7h-6zM335 1149h7v7h-7zM480 1177h7v7h-7zM466 1191h7v7h-7zM321 1211h7v7h-7zM390 1246h7v6h-7z"/>
<path fill="#afc3eb" shape-rendering="crispEdges" d="M445 1108h7v7h-7zM473 1129h7v7h-7zM487 1156h6v7h-6zM260 1170h6v7h-6zM480 1170h7v7h-7zM315 1191h6v7h-6zM308 1204h7v7h-7zM315 1211h6v7h-6zM335 1225h7v7h-7zM432 1225h6v7h-6zM418 1232h7v7h-7zM404 1239h7v7h-7zM356 1246h7v6h-7z"/>
<path fill="#b4c8eb" shape-rendering="crispEdges" d="M390 1115h7v7h-7zM260 1136h6v6h-6zM356 1136h7v6h-7zM328 1163h7v7h-7zM487 1163h6v7h-6zM315 1170h6v7h-6zM342 1239h7v7h-7zM349 1246h7v6h-7zM390 1252h7v7h-7zM370 1301h6v7h-6zM418 1301h7v7h-7z"/>
<path fill="#91aff0" shape-rendering="crispEdges" d="M397 1115h7v7h-7zM445 1115h14v7h-14zM459 1122h7v7h-7zM480 1149h7v7h-7zM260 1184h6v7h-6zM328 1211h7v7h-7zM438 1218h7v7h-7zM363 1239h7v7h-7zM397 1239h7v7h-7zM376 1301h7v7h-7zM390 1301h7v7h-7z"/>
<path fill="#8caaf0" shape-rendering="crispEdges" d="M404 1115h21v7h-21zM473 1136h7v6h-7zM335 1163h7v7h-7zM321 1198h7v6h-7zM452 1204h7v7h-7zM418 1225h14v7h-14zM342 1232h21v7h-21zM404 1232h7v7h-7z"/>
<path fill="#87aaf0" shape-rendering="crispEdges" d="M425 1115h7v7h-7zM438 1115h7v7h-7zM466 1129h7v7h-7zM363 1136h7v6h-7zM342 1156h7v7h-7zM328 1177h7v7h-7zM466 1184h7v7h-7zM459 1198h7v6h-7zM342 1225h7v7h-7z"/>
<path fill="#7da5f0" shape-rendering="crispEdges" d="M432 1115h6v7h-6zM335 1170h7v7h-7zM328 1184h7v7h-7zM370 1232h6v7h-6z"/>
<path fill="#c3d2eb" shape-rendering="crispEdges" d="M260 1122h6v7h-6zM294 1184h7v7h-7zM301 1198h7v6h-7zM308 1218h7v7h-7zM321 1232h7v7h-7zM315 1239h6v7h-6z"/>
<path fill="#8caff0" shape-rendering="crispEdges" d="M383 1122h7v7h-7zM480 1142h7v7h-7z"/>
<path fill="#82a5f0" shape-rendering="crispEdges" d="M390 1122h7v7h-7zM376 1129h7v7h-7zM356 1142h7v7h-7zM473 1142h7v7h-7zM473 1163h7v7h-7zM473 1170h7v7h-7zM328 1191h7v7h-7zM328 1198h7v6h-7zM328 1204h7v7h-7zM438 1211h7v7h-7zM390 1232h14v7h-14z"/>
<path fill="#78a0f0" shape-rendering="crispEdges" d="M397 1122h7v7h-7zM452 1122h7v7h-7zM383 1129h7v7h-7zM466 1177h7v7h-7zM452 1198h7v6h-7zM383 1232h7v7h-7z"/>
<path fill="#6e9bf0" shape-rendering="crispEdges" d="M404 1122h7v7h-7z"/>
<path fill="#5a8cf5" shape-rendering="crispEdges" d="M411 1122h7v7h-7zM425 1122h7v7h-7zM411 1129h7v7h-7zM445 1129h14v7h-14zM466 1142h7v7h-7zM335 1184h7v7h-7zM459 1184h7v7h-7zM335 1198h7v6h-7zM335 1204h7v7h-7zM342 1211h7v7h-7z"/>
<path fill="#6996f5" shape-rendering="crispEdges" d="M418 1122h7v7h-7zM459 1136h14v6h-14zM459 1191h7v7h-7zM445 1204h7v7h-7zM342 1218h7v7h-7zM376 1232h7v7h-7z"/>
<path fill="#5f8cf5" shape-rendering="crispEdges" d="M432 1122h6v7h-6z"/>
<path fill="#558cf5" shape-rendering="crispEdges" d="M438 1122h7v7h-7zM466 1163h7v7h-7zM356 1225h14v7h-14z"/>
<path fill="#7da0f0" shape-rendering="crispEdges" d="M445 1122h7v7h-7zM349 1149h7v7h-7zM335 1218h7v7h-7zM432 1218h6v7h-6zM349 1225h7v7h-7zM363 1232h7v7h-7zM370 1239h6v7h-6z"/>
<path fill="#96b4f0" shape-rendering="crispEdges" d="M466 1122h7v7h-7zM349 1142h7v7h-7zM260 1177h6v7h-6zM473 1177h7v7h-7zM445 1211h7v7h-7zM356 1239h7v7h-7z"/>
<path fill="#5087f5" shape-rendering="crispEdges" d="M390 1129h7v7h-7zM383 1136h14v6h-14zM370 1142h6v7h-6zM356 1149h14v7h-14zM349 1156h7v7h-7zM342 1170h7v7h-7zM445 1198h7v6h-7zM418 1218h7v7h-7zM390 1225h14v7h-14z"/>
<path fill="#5f91f5" shape-rendering="crispEdges" d="M397 1129h7v7h-7zM376 1136h7v6h-7zM342 1163h7v7h-7zM466 1170h7v7h-7z"/>
<path fill="#00b900" shape-rendering="crispEdges" d="M404 1129h7v7h-7zM418 1129h7v7h-7zM438 1136h7v6h-7zM356 1163h7v7h-7zM452 1184h7v7h-7zM438 1204h7v7h-7zM425 1211h7v7h-7zM383 1218h7v7h-7zM411 1218h7v7h-7z"/>
<path fill="#3291af" shape-rendering="crispEdges" d="M425 1129h7v7h-7z"/>
<path fill="#05b900" shape-rendering="crispEdges" d="M432 1129h6v7h-6zM383 1142h7v7h-7zM459 1142h7v7h-7zM370 1149h6v7h-6zM452 1149h14v7h-14zM356 1156h7v7h-7zM349 1163h7v7h-7zM349 1170h7v7h-7zM459 1170h7v7h-7zM349 1191h7v7h-7zM445 1191h7v7h-7zM342 1198h7v6h-7zM438 1198h7v6h-7zM342 1204h7v7h-7zM425 1204h7v7h-7zM411 1211h14v7h-14zM363 1218h7v7h-7zM376 1225h7v7h-7z"/>
<path fill="#4b82f5" shape-rendering="crispEdges" d="M438 1129h7v7h-7zM452 1136h7v6h-7zM452 1142h7v7h-7zM459 1156h7v7h-7zM452 1177h14v7h-14zM349 1211h7v7h-7zM370 1225h6v7h-6z"/>
<path fill="#739bf0" shape-rendering="crispEdges" d="M459 1129h7v7h-7zM473 1149h7v7h-7zM473 1156h7v7h-7zM335 1177h7v7h-7zM425 1218h7v7h-7z"/>
<path fill="#cdd2eb" shape-rendering="crispEdges" d="M335 1136h7v6h-7zM493 1136h7v6h-7zM315 1142h6v7h-6zM301 1156h7v7h-7zM321 1156h7v7h-7zM493 1156h7v7h-7zM294 1177h7v7h-7zM294 1191h14v7h-14zM294 1198h7v6h-7zM294 1218h7v7h-7zM432 1232h6v7h-6zM301 1239h14v7h-14zM321 1259h14v7h-14zM370 1259h6v7h-6zM404 1259h7v7h-7zM260 1266h6v7h-6zM397 1266h7v7h-7zM335 1301h7v7h-7z"/>
<path fill="#6e96f5" shape-rendering="crispEdges" d="M370 1136h6v6h-6z"/>
<path fill="#0ab900" shape-rendering="crispEdges" d="M397 1136h7v6h-7zM445 1142h7v7h-7zM452 1170h7v7h-7zM342 1177h7v7h-7zM342 1184h7v7h-7zM342 1191h7v7h-7zM356 1204h7v7h-7zM432 1204h6v7h-6zM356 1211h14v7h-14zM356 1218h7v7h-7zM370 1218h6v7h-6zM397 1218h14v7h-14z"/>
<path fill="#19be00" shape-rendering="crispEdges" d="M404 1136h14v6h-14zM432 1136h6v6h-6zM445 1177h7v7h-7zM356 1191h7v7h-7zM356 1198h7v6h-7zM376 1211h7v7h-7z"/>
<path fill="#23be00" shape-rendering="crispEdges" d="M418 1136h7v6h-7zM397 1142h7v7h-7zM370 1156h6v7h-6zM411 1204h7v7h-7z"/>
<path fill="#14be00" shape-rendering="crispEdges" d="M425 1136h7v6h-7zM363 1163h7v7h-7zM438 1191h7v7h-7zM349 1198h7v6h-7zM418 1204h7v7h-7zM370 1211h6v7h-6zM383 1211h14v7h-14zM404 1211h7v7h-7z"/>
<path fill="#5587f5" shape-rendering="crispEdges" d="M445 1136h7v6h-7zM363 1142h7v7h-7zM466 1156h7v7h-7zM459 1163h7v7h-7z"/>
<path fill="#9bb4f0" shape-rendering="crispEdges" d="M480 1136h7v6h-7zM328 1170h7v7h-7zM321 1184h7v7h-7zM473 1184h7v7h-7zM260 1204h6v7h-6zM260 1218h6v7h-6zM328 1218h7v7h-7zM411 1232h7v7h-7zM376 1239h7v7h-7zM383 1301h7v7h-7z"/>
<path fill="#b9c8eb" shape-rendering="crispEdges" d="M487 1136h6v6h-6zM335 1142h7v7h-7zM328 1149h7v7h-7zM260 1156h6v7h-6zM315 1163h6v7h-6zM480 1184h7v7h-7zM473 1191h7v7h-7zM315 1198h6v6h-6zM466 1198h7v6h-7zM459 1204h7v7h-7zM315 1218h6v7h-6zM445 1218h7v7h-7zM328 1225h7v7h-7zM260 1232h6v7h-6zM335 1246h7v6h-7zM370 1246h6v6h-6zM404 1246h7v6h-7zM349 1252h7v7h-7zM370 1252h6v7h-6zM383 1252h7v7h-7zM376 1259h7v7h-7zM356 1301h7v7h-7z"/>
<path fill="#a5bef0" shape-rendering="crispEdges" d="M342 1142h7v7h-7zM315 1204h6v7h-6zM349 1239h7v7h-7zM363 1246h7v6h-7zM363 1301h7v7h-7zM411 1301h7v7h-7z"/>
<path fill="#4682f5" shape-rendering="crispEdges" d="M376 1142h7v7h-7zM349 1218h7v7h-7zM383 1225h7v7h-7z"/>
<path fill="#1ebe00" shape-rendering="crispEdges" d="M390 1142h7v7h-7zM445 1149h7v7h-7zM356 1177h7v7h-7zM356 1184h7v7h-7zM425 1198h7v6h-7zM363 1204h7v7h-7zM397 1211h7v7h-7z"/>
<path fill="#3cc300" shape-rendering="crispEdges" d="M404 1142h7v7h-7zM383 1149h7v7h-7zM438 1149h7v7h-7zM376 1156h7v7h-7zM383 1204h7v7h-7z"/>
<path fill="#4bc300" shape-rendering="crispEdges" d="M411 1142h7v7h-7z"/>
<path fill="#55c800" shape-rendering="crispEdges" d="M418 1142h7v7h-7zM370 1170h6v7h-6zM370 1198h6v6h-6z"/>
<path fill="#41c300" shape-rendering="crispEdges" d="M425 1142h7v7h-7zM438 1177h7v7h-7zM397 1204h7v7h-7z"/>
<path fill="#2dbe00" shape-rendering="crispEdges" d="M432 1142h13v7h-13zM445 1156h7v7h-7z"/>
<path fill="#a0b9f0" shape-rendering="crispEdges" d="M342 1149h7v7h-7zM260 1191h6v7h-6zM321 1204h7v7h-7zM260 1211h6v7h-6zM335 1232h7v7h-7zM383 1239h7v7h-7zM376 1246h7v6h-7z"/>
<path fill="#0fbe00" shape-rendering="crispEdges" d="M376 1149h7v7h-7zM452 1156h7v7h-7zM452 1163h7v7h-7zM356 1170h7v7h-7zM349 1184h7v7h-7zM445 1184h7v7h-7zM432 1198h6v6h-6zM349 1204h7v7h-7zM390 1218h7v7h-7z"/>
<path fill="#50c800" shape-rendering="crispEdges" d="M390 1149h7v7h-7zM438 1156h7v7h-7zM438 1170h7v7h-7zM363 1184h7v7h-7z"/>
<path fill="#69cd00" shape-rendering="crispEdges" d="M397 1149h7v7h-7zM425 1149h7v7h-7z"/>
<path fill="#7dd200" shape-rendering="crispEdges" d="M404 1149h7v7h-7zM390 1156h7v7h-7zM370 1177h6v7h-6z"/>
<path fill="#91d700" shape-rendering="crispEdges" d="M411 1149h7v7h-7zM383 1198h7v6h-7z"/>
<path fill="#a0dc00" shape-rendering="crispEdges" d="M418 1149h7v7h-7zM397 1156h7v7h-7z"/>
<path fill="#64cd00" shape-rendering="crispEdges" d="M432 1149h6v7h-6zM370 1191h6v7h-6zM425 1191h7v7h-7zM411 1198h7v6h-7z"/>
<path fill="#6491f5" shape-rendering="crispEdges" d="M466 1149h7v7h-7zM335 1191h7v7h-7zM335 1211h7v7h-7zM432 1211h6v7h-6zM411 1225h7v7h-7z"/>
<path fill="#afbef0" shape-rendering="crispEdges" d="M335 1156h7v7h-7zM260 1163h6v7h-6z"/>
<path fill="#0fb900" shape-rendering="crispEdges" d="M363 1156h7v7h-7zM349 1177h7v7h-7zM376 1218h7v7h-7z"/>
<path fill="#5ac800" shape-rendering="crispEdges" d="M383 1156h7v7h-7z"/>
<path fill="#d7f000" shape-rendering="crispEdges" d="M404 1156h7v7h-7zM397 1163h7v7h-7z"/>
<path fill="#dcf000" shape-rendering="crispEdges" d="M411 1156h14v7h-14zM418 1163h7v7h-7zM383 1177h7v7h-7zM411 1184h7v7h-7z"/>
<path fill="#a5dc00" shape-rendering="crispEdges" d="M425 1156h7v7h-7zM383 1191h7v7h-7z"/>
<path fill="#96d700" shape-rendering="crispEdges" d="M432 1156h6v7h-6zM376 1184h7v7h-7zM425 1184h7v7h-7zM418 1191h7v7h-7z"/>
<path fill="#32c300" shape-rendering="crispEdges" d="M370 1163h6v7h-6zM445 1163h7v7h-7zM376 1204h7v7h-7z"/>
<path fill="#6ecd00" shape-rendering="crispEdges" d="M376 1163h7v7h-7z"/>
<path fill="#8cd700" shape-rendering="crispEdges" d="M383 1163h7v7h-7zM390 1198h7v6h-7z"/>
<path fill="#c8e600" shape-rendering="crispEdges" d="M390 1163h7v7h-7zM425 1177h7v7h-7zM390 1191h7v7h-7z"/>
<path fill="#fff500" shape-rendering="crispEdges" d="M404 1163h14v7h-14zM404 1170h7v7h-7z"/>
<path fill="#cdeb00" shape-rendering="crispEdges" d="M425 1163h7v7h-7zM425 1170h7v7h-7z"/>
<path fill="#aadc00" shape-rendering="crispEdges" d="M432 1163h6v7h-6z"/>
<path fill="#5fc800" shape-rendering="crispEdges" d="M438 1163h7v7h-7z"/>
<path fill="#2dc300" shape-rendering="crispEdges" d="M363 1170h7v7h-7zM445 1170h7v7h-7z"/>
<path fill="#9bd700" shape-rendering="crispEdges" d="M376 1170h7v7h-7zM376 1177h7v7h-7z"/>
<path fill="#c3e600" shape-rendering="crispEdges" d="M383 1170h7v7h-7zM383 1184h7v7h-7z"/>
<path fill="#f0fa00" shape-rendering="crispEdges" d="M390 1170h7v7h-7zM390 1177h7v7h-7z"/>
<path fill="#ffd200" shape-rendering="crispEdges" d="M397 1170h7v7h-7z"/>
<path fill="#fff000" shape-rendering="crispEdges" d="M411 1170h7v7h-7z"/>
<path fill="#f5fa00" shape-rendering="crispEdges" d="M418 1170h7v7h-7zM397 1184h7v7h-7z"/>
<path fill="#87d200" shape-rendering="crispEdges" d="M432 1170h6v7h-6zM397 1198h14v6h-14z"/>
<path fill="#37c300" shape-rendering="crispEdges" d="M363 1177h7v7h-7zM438 1184h7v7h-7zM432 1191h6v7h-6zM363 1198h7v6h-7zM404 1204h7v7h-7z"/>
<path fill="#ffdc00" shape-rendering="crispEdges" d="M397 1177h7v7h-7zM411 1177h7v7h-7z"/>
<path fill="#ffc800" shape-rendering="crispEdges" d="M404 1177h7v7h-7z"/>
<path fill="#e1f000" shape-rendering="crispEdges" d="M418 1177h7v7h-7zM390 1184h7v7h-7z"/>
<path fill="#73cd00" shape-rendering="crispEdges" d="M432 1177h6v7h-6z"/>
<path fill="#82d200" shape-rendering="crispEdges" d="M370 1184h6v7h-6z"/>
<path fill="#ebf500" shape-rendering="crispEdges" d="M404 1184h7v7h-7z"/>
<path fill="#d2eb00" shape-rendering="crispEdges" d="M418 1184h7v7h-7z"/>
<path fill="#64c800" shape-rendering="crispEdges" d="M432 1184h6v7h-6z"/>
<path fill="#46c300" shape-rendering="crispEdges" d="M363 1191h7v7h-7zM418 1198h7v6h-7zM390 1204h7v7h-7z"/>
<path fill="#78cd00" shape-rendering="crispEdges" d="M376 1191h7v7h-7zM376 1198h7v6h-7z"/>
<path fill="#bee600" shape-rendering="crispEdges" d="M397 1191h21v7h-21z"/>
<path fill="#6496f5" shape-rendering="crispEdges" d="M452 1191h7v7h-7z"/>
<path fill="#28be00" shape-rendering="crispEdges" d="M370 1204h6v7h-6z"/>
<path fill="#6e9bf5" shape-rendering="crispEdges" d="M404 1225h7v7h-7z"/>
<path fill="#afc3f0" shape-rendering="crispEdges" d="M328 1232h7v7h-7z"/>
<path fill="#9bb9f0" shape-rendering="crispEdges" d="M404 1301h7v7h-7z"/>
<g transform="translate(403.3,1176.0) rotate(-40.8)" fill="none">
<ellipse rx="89.3" ry="65.3" stroke="#5a5a5a" stroke-width="1.0" stroke-opacity="0.75"/>
<ellipse rx="75.0" ry="54.9" stroke="#5a5a5a" stroke-width="1.0" stroke-opacity="0.75"/>
<ellipse rx="66.6" ry="48.7" stroke="#5a5a5a" stroke-width="1.0" stroke-opacity="0.75"/>
<ellipse rx="62.1" ry="45.4" stroke="#1a1a00" stroke-width="0.95" stroke-opacity="0.33"/>
<ellipse rx="57.6" ry="42.1" stroke="#1a1a00" stroke-width="0.95" stroke-opacity="0.33"/>
<ellipse rx="52.9" ry="38.7" stroke="#1a1a00" stroke-width="0.95" stroke-opacity="0.33"/>
<ellipse rx="47.2" ry="34.5" stroke="#1a1a00" stroke-width="0.95" stroke-opacity="0.33"/>
<ellipse rx="42.0" ry="30.7" stroke="#1a1a00" stroke-width="0.95" stroke-opacity="0.33"/>
<ellipse rx="36.9" ry="27.0" stroke="#1a1a00" stroke-width="0.95" stroke-opacity="0.33"/>
<ellipse rx="31.2" ry="22.8" stroke="#1a1a00" stroke-width="0.95" stroke-opacity="0.33"/>
<ellipse rx="25.5" ry="18.7" stroke="#1a1a00" stroke-width="0.95" stroke-opacity="0.33"/>
<ellipse rx="19.8" ry="14.5" stroke="#1a1a00" stroke-width="0.95" stroke-opacity="0.33"/>
<ellipse rx="15.1" ry="11.0" stroke="#1a1a00" stroke-width="0.95" stroke-opacity="0.33"/>
<ellipse rx="9.8" ry="7.2" stroke="#1a1a00" stroke-width="0.95" stroke-opacity="0.33"/>
</g>
<circle cx="404.3" cy="1175.0" r="5.2" fill="#d00000"/>
<rect x="259.5" y="1032.5" width="275.20000000000005" height="275.0" fill="none" stroke="#aaa" stroke-width="1.2" stroke-dasharray="3 1"/>
<rect x="588.0" y="1032.6" width="276.0" height="274.8000000000002" fill="#e5e5e5"/>
<path fill="#d2d7eb" shape-rendering="crispEdges" d="M760 1094h21v7h-21zM795 1101h7v7h-7zM588 1115h7v7h-7zM698 1122h7v7h-7zM809 1136h7v7h-7zM657 1143h14v6h-14zM809 1143h7v6h-7zM629 1149h7v7h-7zM650 1149h7v7h-7zM616 1156h6v7h-6zM802 1156h7v7h-7zM636 1163h7v7h-7zM802 1163h7v7h-7zM616 1170h6v7h-6zM602 1177h7v7h-7zM795 1177h7v7h-7zM788 1184h7v7h-7zM609 1191h7v6h-7zM595 1197h7v7h-7zM609 1204h7v7h-7zM595 1211h21v7h-21zM767 1211h7v7h-7zM602 1218h7v7h-7zM760 1218h7v7h-7zM595 1225h7v7h-7zM609 1225h7v7h-7zM754 1225h6v7h-6zM609 1232h13v7h-13zM747 1232h7v7h-7zM747 1239h7v7h-7zM616 1246h6v6h-6zM740 1246h7v6h-7zM616 1252h6v7h-6zM740 1252h14v7h-14zM616 1259h13v7h-13zM636 1259h7v7h-7zM726 1259h7v7h-7zM747 1259h7v7h-7zM643 1266h14v7h-14zM733 1266h21v7h-21zM588 1273h7v7h-7zM622 1273h7v7h-7zM636 1273h7v7h-7zM650 1273h7v7h-7zM671 1273h7v7h-7zM733 1273h7v7h-7zM650 1280h21v7h-21zM685 1280h7v7h-7zM698 1280h7v7h-7zM719 1280h7v7h-7zM740 1280h7v7h-7zM588 1287h7v7h-7zM643 1287h7v7h-7zM657 1287h7v7h-7zM671 1287h7v7h-7zM692 1287h13v7h-13zM712 1287h7v7h-7zM726 1287h7v7h-7zM622 1301h7v6h-7z"/>
<path fill="#d7dceb" shape-rendering="crispEdges" d="M740 1101h7v7h-7zM678 1129h7v7h-7zM809 1129h7v7h-7zM671 1136h7v7h-7zM650 1143h7v6h-7zM609 1156h7v7h-7zM636 1156h7v7h-7zM809 1156h7v7h-7zM616 1163h6v7h-6zM609 1177h7v7h-7zM602 1197h7v7h-7zM602 1204h7v7h-7zM595 1218h7v7h-7zM602 1232h7v7h-7zM754 1239h6v7h-6zM609 1246h7v6h-7zM747 1273h7v7h-7zM712 1280h7v7h-7zM588 1294h7v7h-7zM671 1294h7v7h-7zM685 1294h13v7h-13zM588 1301h7v6h-7zM629 1301h7v6h-7zM774 1301h14v6h-14z"/>
<path fill="#cdd7eb" shape-rendering="crispEdges" d="M747 1101h7v7h-7zM788 1101h7v7h-7zM719 1108h7v7h-7zM795 1108h7v7h-7zM705 1115h7v7h-7zM802 1115h7v7h-7zM809 1122h7v7h-7zM685 1129h7v7h-7zM657 1149h7v7h-7zM629 1156h7v7h-7zM643 1156h14v7h-14zM609 1184h7v7h-7zM781 1191h7v6h-7zM616 1197h6v7h-6zM609 1218h7v7h-7zM609 1239h7v7h-7zM622 1252h7v7h-7zM726 1252h7v7h-7zM643 1259h7v7h-7zM733 1259h14v7h-14zM588 1266h7v7h-7zM629 1266h14v7h-14zM657 1266h7v7h-7zM671 1266h7v7h-7zM726 1266h7v7h-7zM657 1273h7v7h-7zM678 1273h7v7h-7zM705 1273h7v7h-7zM726 1273h7v7h-7zM588 1280h7v7h-7zM664 1287h7v7h-7zM678 1287h7v7h-7zM767 1301h7v6h-7z"/>
<path fill="#c3cdeb" shape-rendering="crispEdges" d="M754 1101h6v7h-6zM774 1101h14v7h-14zM788 1108h7v7h-7zM671 1143h7v6h-7zM802 1149h7v7h-7zM657 1156h7v7h-7zM643 1163h7v7h-7zM629 1170h21v7h-21zM781 1184h7v7h-7zM629 1191h7v6h-7zM616 1204h6v7h-6zM629 1204h7v7h-7zM629 1211h7v7h-7zM616 1218h6v7h-6zM616 1225h6v7h-6zM629 1225h7v7h-7zM629 1232h7v7h-7zM622 1239h7v7h-7zM726 1239h7v7h-7zM629 1252h7v7h-7zM643 1252h7v7h-7zM588 1259h7v7h-7zM650 1259h7v7h-7zM692 1259h13v7h-13zM678 1266h14v7h-14zM657 1301h7v6h-7zM740 1301h7v6h-7z"/>
<path fill="#c8d2eb" shape-rendering="crispEdges" d="M760 1101h14v7h-14zM726 1108h7v7h-7zM588 1122h7v7h-7zM705 1122h7v7h-7zM802 1122h7v7h-7zM588 1129h7v7h-7zM692 1129h6v7h-6zM588 1136h7v7h-7zM678 1136h7v7h-7zM622 1163h14v7h-14zM616 1177h6v7h-6zM622 1184h7v7h-7zM616 1191h13v6h-13zM774 1197h7v7h-7zM740 1232h7v7h-7zM616 1239h6v7h-6zM629 1239h7v7h-7zM733 1239h14v7h-14zM622 1246h7v6h-7zM719 1246h7v6h-7zM733 1246h7v6h-7zM636 1252h7v7h-7zM733 1252h7v7h-7zM629 1259h7v7h-7zM712 1259h7v7h-7zM692 1266h6v7h-6zM712 1266h14v7h-14zM664 1273h7v7h-7zM712 1273h14v7h-14zM671 1280h7v7h-7zM692 1280h6v7h-6zM705 1280h7v7h-7zM636 1301h21v6h-21zM760 1301h7v6h-7z"/>
<path fill="#cdd2eb" shape-rendering="crispEdges" d="M733 1108h7v7h-7zM712 1115h7v7h-7zM664 1149h7v7h-7zM622 1170h7v7h-7zM616 1184h6v7h-6zM609 1197h7v7h-7zM622 1204h7v7h-7zM616 1211h6v7h-6zM622 1218h7v7h-7zM629 1246h7v6h-7zM719 1252h7v7h-7zM698 1266h14v7h-14zM685 1273h7v7h-7zM698 1273h7v7h-7zM678 1280h7v7h-7zM685 1287h7v7h-7z"/>
<path fill="#afc3eb" shape-rendering="crispEdges" d="M740 1108h7v7h-7zM719 1115h7v7h-7zM712 1122h7v7h-7zM671 1149h7v7h-7zM671 1156h7v7h-7zM781 1177h7v7h-7zM643 1184h7v7h-7zM588 1191h7v6h-7zM774 1191h7v6h-7zM760 1204h7v7h-7zM733 1225h7v7h-7zM726 1232h7v7h-7zM712 1246h7v6h-7zM671 1301h7v6h-7zM733 1301h7v6h-7z"/>
<path fill="#b9c8eb" shape-rendering="crispEdges" d="M747 1108h7v7h-7zM781 1108h7v7h-7zM726 1115h7v7h-7zM788 1115h7v7h-7zM698 1129h7v7h-7zM588 1149h7v7h-7zM588 1156h7v7h-7zM664 1156h7v7h-7zM650 1163h7v7h-7zM636 1177h7v7h-7zM622 1197h7v7h-7zM636 1204h7v7h-7zM767 1204h7v7h-7zM760 1211h7v7h-7zM588 1225h7v7h-7zM622 1225h7v7h-7zM740 1225h7v7h-7zM622 1232h7v7h-7zM636 1232h7v7h-7zM733 1232h7v7h-7zM712 1252h7v7h-7zM657 1259h14v7h-14zM678 1259h7v7h-7zM705 1259h7v7h-7z"/>
<path fill="#9bb4f0" shape-rendering="crispEdges" d="M754 1108h6v7h-6zM795 1136h7v7h-7zM795 1149h7v7h-7zM657 1170h7v7h-7zM588 1177h7v7h-7zM643 1197h7v7h-7zM747 1218h7v7h-7zM636 1225h7v7h-7zM719 1239h7v7h-7zM671 1246h7v6h-7zM685 1246h7v6h-7zM712 1301h7v6h-7z"/>
<path fill="#96b4f0" shape-rendering="crispEdges" d="M760 1108h7v7h-7zM719 1122h7v7h-7zM678 1149h7v7h-7zM643 1191h7v6h-7zM705 1301h7v6h-7z"/>
<path fill="#afc3f0" shape-rendering="crispEdges" d="M767 1108h7v7h-7z"/>
<path fill="#aabef0" shape-rendering="crispEdges" d="M774 1108h7v7h-7zM795 1156h7v7h-7zM788 1163h7v7h-7zM788 1170h7v7h-7zM650 1177h7v7h-7zM636 1239h7v7h-7zM692 1246h6v6h-6zM664 1252h7v7h-7z"/>
<path fill="#8caaf0" shape-rendering="crispEdges" d="M733 1115h7v7h-7zM760 1115h21v7h-21zM754 1204h6v7h-6zM747 1211h7v7h-7zM678 1246h7v6h-7zM685 1301h7v6h-7z"/>
<path fill="#91aff0" shape-rendering="crispEdges" d="M740 1115h7v7h-7zM788 1129h7v7h-7zM698 1136h7v7h-7zM664 1163h7v7h-7zM650 1184h7v7h-7zM740 1218h7v7h-7zM657 1239h7v7h-7zM705 1239h14v7h-14z"/>
<path fill="#7da0f0" shape-rendering="crispEdges" d="M747 1115h7v7h-7zM788 1149h7v7h-7zM671 1163h7v7h-7zM781 1163h7v7h-7zM650 1191h7v6h-7zM767 1191h7v6h-7zM726 1225h7v7h-7zM692 1239h6v7h-6z"/>
<path fill="#739bf0" shape-rendering="crispEdges" d="M754 1115h6v7h-6zM788 1143h7v6h-7zM774 1177h7v7h-7zM650 1218h7v7h-7zM678 1239h14v7h-14z"/>
<path fill="#b4c3eb" shape-rendering="crispEdges" d="M781 1115h7v7h-7zM795 1115h7v7h-7zM802 1136h7v7h-7zM685 1143h7v6h-7zM643 1177h7v7h-7zM636 1184h7v7h-7zM629 1197h7v7h-7zM588 1204h7v7h-7zM636 1211h7v7h-7zM636 1218h7v7h-7zM643 1239h7v7h-7zM636 1246h7v6h-7zM705 1246h7v6h-7zM588 1252h7v7h-7zM671 1252h14v7h-14zM692 1252h6v7h-6zM685 1259h7v7h-7zM747 1301h7v6h-7z"/>
<path fill="#78a0f0" shape-rendering="crispEdges" d="M726 1122h14v7h-14zM692 1143h6v6h-6zM781 1170h7v7h-7zM657 1177h7v7h-7z"/>
<path fill="#5f91f5" shape-rendering="crispEdges" d="M740 1122h14v7h-14zM774 1163h7v7h-7zM671 1170h7v7h-7zM657 1218h7v7h-7zM671 1232h7v7h-7z"/>
<path fill="#5587f5" shape-rendering="crispEdges" d="M754 1122h6v7h-6zM781 1149h7v7h-7zM664 1177h7v7h-7zM754 1191h6v6h-6zM657 1197h7v7h-7zM740 1204h7v7h-7z"/>
<path fill="#6996f5" shape-rendering="crispEdges" d="M760 1122h14v7h-14zM705 1136h7v7h-7zM781 1136h7v7h-7zM685 1149h7v7h-7zM678 1156h7v7h-7zM781 1156h7v7h-7zM650 1197h7v7h-7zM650 1204h7v7h-7zM719 1225h7v7h-7zM705 1232h7v7h-7zM671 1239h7v7h-7z"/>
<path fill="#6e96f5" shape-rendering="crispEdges" d="M774 1122h7v7h-7zM657 1232h7v7h-7z"/>
<path fill="#87aaf0" shape-rendering="crispEdges" d="M781 1122h7v7h-7zM712 1129h7v7h-7zM788 1136h7v7h-7zM788 1156h7v7h-7zM774 1184h7v7h-7zM643 1204h7v7h-7zM664 1239h7v7h-7zM698 1239h7v7h-7z"/>
<path fill="#a5b9f0" shape-rendering="crispEdges" d="M788 1122h7v7h-7zM754 1211h6v7h-6zM643 1246h14v6h-14zM664 1246h7v6h-7zM698 1252h7v7h-7zM664 1301h7v6h-7z"/>
<path fill="#a0b9f0" shape-rendering="crispEdges" d="M795 1122h7v7h-7zM588 1197h7v7h-7zM588 1218h7v7h-7zM650 1239h7v7h-7zM657 1246h7v6h-7zM698 1246h7v6h-7zM678 1301h7v6h-7zM726 1301h7v6h-7z"/>
<path fill="#82a5f0" shape-rendering="crispEdges" d="M705 1129h7v7h-7zM643 1218h7v7h-7zM650 1225h7v7h-7zM650 1232h7v7h-7zM712 1232h7v7h-7z"/>
<path fill="#5a8cf5" shape-rendering="crispEdges" d="M719 1129h7v7h-7zM767 1129h7v7h-7zM774 1149h7v7h-7zM685 1156h7v7h-7zM678 1163h7v7h-7zM740 1211h7v7h-7zM664 1232h7v7h-7zM678 1232h14v7h-14zM698 1232h7v7h-7z"/>
<path fill="#00b900" shape-rendering="crispEdges" d="M726 1129h7v7h-7zM740 1129h7v7h-7zM767 1136h7v7h-7zM767 1143h7v6h-7zM678 1170h7v7h-7zM678 1177h7v7h-7zM747 1197h7v7h-7zM719 1218h7v7h-7z"/>
<path fill="#5087f5" shape-rendering="crispEdges" d="M733 1129h7v7h-7zM747 1129h7v7h-7zM774 1129h7v7h-7zM698 1143h7v6h-7zM774 1143h7v6h-7zM685 1163h7v7h-7zM774 1170h7v7h-7zM760 1184h7v7h-7zM664 1225h7v7h-7z"/>
<path fill="#05b900" shape-rendering="crispEdges" d="M754 1129h13v7h-13zM726 1136h7v7h-7zM760 1136h7v7h-7zM774 1136h7v7h-7zM705 1143h14v6h-14zM698 1149h7v7h-7zM767 1149h7v7h-7zM692 1156h6v7h-6zM671 1177h7v7h-7zM767 1177h7v7h-7zM664 1191h14v6h-14zM657 1204h7v7h-7zM733 1204h7v7h-7zM726 1211h7v7h-7zM664 1218h7v7h-7zM712 1218h7v7h-7zM692 1225h6v7h-6zM692 1232h6v7h-6z"/>
<path fill="#7da5f0" shape-rendering="crispEdges" d="M781 1129h7v7h-7zM760 1197h7v7h-7zM643 1211h7v7h-7z"/>
<path fill="#a5bef0" shape-rendering="crispEdges" d="M795 1129h7v7h-7zM588 1170h7v7h-7zM636 1197h7v7h-7zM767 1197h7v7h-7zM588 1239h7v7h-7zM692 1301h13v6h-13z"/>
<path fill="#b4c8eb" shape-rendering="crispEdges" d="M802 1129h7v7h-7zM795 1143h14v6h-14zM795 1163h7v7h-7zM636 1191h7v6h-7zM588 1211h7v7h-7zM629 1218h7v7h-7zM588 1232h7v7h-7zM657 1252h7v7h-7z"/>
<path fill="#becdeb" shape-rendering="crispEdges" d="M685 1136h7v7h-7zM588 1143h7v6h-7zM588 1163h7v7h-7zM657 1163h7v7h-7zM650 1170h7v7h-7zM795 1170h7v7h-7zM629 1177h7v7h-7zM788 1177h7v7h-7zM622 1211h7v7h-7zM747 1225h7v7h-7zM650 1252h7v7h-7zM705 1252h7v7h-7zM671 1259h7v7h-7zM719 1259h7v7h-7zM664 1266h7v7h-7zM692 1273h6v7h-6zM754 1301h6v6h-6z"/>
<path fill="#bec8eb" shape-rendering="crispEdges" d="M692 1136h6v7h-6zM629 1184h7v7h-7zM754 1218h6v7h-6zM726 1246h7v6h-7zM685 1252h7v7h-7z"/>
<path fill="#4682f5" shape-rendering="crispEdges" d="M712 1136h7v7h-7zM657 1211h7v7h-7zM726 1218h7v7h-7z"/>
<path fill="#558cf5" shape-rendering="crispEdges" d="M719 1136h7v7h-7zM781 1143h7v6h-7zM657 1225h7v7h-7zM712 1225h7v7h-7z"/>
<path fill="#0fb900" shape-rendering="crispEdges" d="M733 1136h7v7h-7zM760 1177h7v7h-7zM671 1211h7v7h-7zM705 1218h7v7h-7z"/>
<path fill="#19be00" shape-rendering="crispEdges" d="M740 1136h14v7h-14zM760 1143h7v6h-7zM698 1156h7v7h-7zM678 1184h7v7h-7zM712 1211h7v7h-7z"/>
<path fill="#0fbe00" shape-rendering="crispEdges" d="M754 1136h6v7h-6zM747 1191h7v6h-7zM671 1197h7v7h-7zM719 1211h7v7h-7zM698 1218h7v7h-7zM671 1225h7v7h-7zM685 1225h7v7h-7zM698 1225h7v7h-7z"/>
<path fill="#c3d2eb" shape-rendering="crispEdges" d="M678 1143h7v6h-7zM622 1177h7v7h-7z"/>
<path fill="#14be00" shape-rendering="crispEdges" d="M719 1143h7v6h-7zM705 1149h7v7h-7zM767 1156h7v7h-7zM685 1170h7v7h-7zM760 1170h7v7h-7zM671 1184h7v7h-7zM754 1184h6v7h-6zM664 1197h7v7h-7zM740 1197h7v7h-7zM671 1204h7v7h-7zM678 1211h7v7h-7zM671 1218h7v7h-7zM685 1218h13v7h-13z"/>
<path fill="#32c300" shape-rendering="crispEdges" d="M726 1143h7v6h-7zM754 1143h6v6h-6zM760 1149h7v7h-7zM760 1163h7v7h-7zM692 1211h13v7h-13z"/>
<path fill="#37c300" shape-rendering="crispEdges" d="M733 1143h7v6h-7zM747 1143h7v6h-7zM705 1156h7v7h-7zM685 1177h7v7h-7zM747 1184h7v7h-7zM678 1197h7v7h-7zM705 1211h7v7h-7z"/>
<path fill="#41c300" shape-rendering="crispEdges" d="M740 1143h7v6h-7zM754 1149h6v7h-6zM698 1163h7v7h-7zM733 1197h7v7h-7z"/>
<path fill="#6491f5" shape-rendering="crispEdges" d="M692 1149h6v7h-6zM657 1184h7v7h-7zM760 1191h7v6h-7zM747 1204h7v7h-7zM650 1211h7v7h-7zM733 1218h7v7h-7z"/>
<path fill="#28be00" shape-rendering="crispEdges" d="M712 1149h7v7h-7zM754 1177h6v7h-6z"/>
<path fill="#55c800" shape-rendering="crispEdges" d="M719 1149h7v7h-7z"/>
<path fill="#73cd00" shape-rendering="crispEdges" d="M726 1149h7v7h-7z"/>
<path fill="#69cd00" shape-rendering="crispEdges" d="M733 1149h7v7h-7zM740 1184h7v7h-7zM685 1191h7v6h-7zM705 1204h7v7h-7z"/>
<path fill="#82d200" shape-rendering="crispEdges" d="M740 1149h7v7h-7zM698 1170h7v7h-7zM733 1191h7v6h-7z"/>
<path fill="#5fc800" shape-rendering="crispEdges" d="M747 1149h7v7h-7z"/>
<path fill="#78cd00" shape-rendering="crispEdges" d="M712 1156h7v7h-7z"/>
<path fill="#8cd700" shape-rendering="crispEdges" d="M719 1156h7v7h-7zM747 1170h7v7h-7z"/>
<path fill="#b9e100" shape-rendering="crispEdges" d="M726 1156h7v7h-7zM705 1170h7v7h-7zM698 1184h7v7h-7zM719 1191h7v6h-7z"/>
<path fill="#c3e600" shape-rendering="crispEdges" d="M733 1156h7v7h-7z"/>
<path fill="#bee600" shape-rendering="crispEdges" d="M740 1156h7v7h-7zM705 1197h7v7h-7z"/>
<path fill="#96d700" shape-rendering="crispEdges" d="M747 1156h7v7h-7zM698 1177h7v7h-7zM692 1191h6v6h-6z"/>
<path fill="#64c800" shape-rendering="crispEdges" d="M754 1156h6v7h-6zM754 1163h6v7h-6z"/>
<path fill="#2dbe00" shape-rendering="crispEdges" d="M760 1156h7v7h-7z"/>
<path fill="#4b82f5" shape-rendering="crispEdges" d="M774 1156h7v7h-7zM767 1170h7v7h-7zM657 1191h7v6h-7zM754 1197h6v7h-6zM733 1211h7v7h-7z"/>
<path fill="#1ebe00" shape-rendering="crispEdges" d="M692 1163h6v7h-6zM685 1211h7v7h-7z"/>
<path fill="#87d200" shape-rendering="crispEdges" d="M705 1163h7v7h-7z"/>
<path fill="#aadc00" shape-rendering="crispEdges" d="M712 1163h7v7h-7zM698 1191h7v6h-7zM698 1197h7v7h-7z"/>
<path fill="#ebf500" shape-rendering="crispEdges" d="M719 1163h7v7h-7zM705 1184h7v7h-7zM705 1191h7v6h-7z"/>
<path fill="#f0fa00" shape-rendering="crispEdges" d="M726 1163h14v7h-14zM712 1170h7v7h-7zM733 1177h7v7h-7z"/>
<path fill="#d7eb00" shape-rendering="crispEdges" d="M740 1163h7v7h-7zM705 1177h7v7h-7zM712 1191h7v6h-7z"/>
<path fill="#afe100" shape-rendering="crispEdges" d="M747 1163h7v7h-7z"/>
<path fill="#0ab900" shape-rendering="crispEdges" d="M767 1163h7v7h-7zM664 1184h7v7h-7zM664 1204h7v7h-7zM664 1211h7v7h-7zM678 1218h7v7h-7zM678 1225h7v7h-7zM705 1225h7v7h-7z"/>
<path fill="#6e9bf0" shape-rendering="crispEdges" d="M664 1170h7v7h-7zM767 1184h7v7h-7z"/>
<path fill="#3cc300" shape-rendering="crispEdges" d="M692 1170h6v7h-6z"/>
<path fill="#ffff00" shape-rendering="crispEdges" d="M719 1170h7v7h-7zM719 1177h14v7h-14z"/>
<path fill="#ffe600" shape-rendering="crispEdges" d="M726 1170h7v7h-7z"/>
<path fill="#f5fa00" shape-rendering="crispEdges" d="M733 1170h7v7h-7z"/>
<path fill="#cdeb00" shape-rendering="crispEdges" d="M740 1170h7v7h-7zM733 1184h7v7h-7z"/>
<path fill="#4bc300" shape-rendering="crispEdges" d="M754 1170h6v7h-6zM719 1204h7v7h-7z"/>
<path fill="#64cd00" shape-rendering="crispEdges" d="M692 1177h6v7h-6z"/>
<path fill="#faff00" shape-rendering="crispEdges" d="M712 1177h7v7h-7zM719 1184h7v7h-7z"/>
<path fill="#a0dc00" shape-rendering="crispEdges" d="M740 1177h7v7h-7z"/>
<path fill="#5ac800" shape-rendering="crispEdges" d="M747 1177h7v7h-7zM685 1197h7v7h-7zM698 1204h7v7h-7zM712 1204h7v7h-7z"/>
<path fill="#96aff0" shape-rendering="crispEdges" d="M588 1184h7v7h-7zM643 1225h7v7h-7zM643 1232h7v7h-7z"/>
<path fill="#4bc800" shape-rendering="crispEdges" d="M685 1184h7v7h-7zM685 1204h7v7h-7z"/>
<path fill="#8cd200" shape-rendering="crispEdges" d="M692 1184h6v7h-6zM692 1197h6v7h-6z"/>
<path fill="#ffe100" shape-rendering="crispEdges" d="M712 1184h7v7h-7z"/>
<path fill="#e1f000" shape-rendering="crispEdges" d="M726 1184h7v7h-7z"/>
<path fill="#23be00" shape-rendering="crispEdges" d="M678 1191h7v6h-7zM678 1204h7v7h-7zM726 1204h7v7h-7z"/>
<path fill="#a5dc00" shape-rendering="crispEdges" d="M726 1191h7v6h-7zM712 1197h7v7h-7z"/>
<path fill="#46c300" shape-rendering="crispEdges" d="M740 1191h7v6h-7z"/>
<path fill="#9bd700" shape-rendering="crispEdges" d="M719 1197h7v7h-7z"/>
<path fill="#50c800" shape-rendering="crispEdges" d="M726 1197h7v7h-7zM692 1204h6v7h-6z"/>
<path fill="#8caff0" shape-rendering="crispEdges" d="M719 1232h7v7h-7z"/>
<path fill="#afbef0" shape-rendering="crispEdges" d="M588 1246h7v6h-7z"/>
<path fill="#d7d7eb" shape-rendering="crispEdges" d="M636 1280h7v7h-7z"/>
<path fill="#9bb9f0" shape-rendering="crispEdges" d="M719 1301h7v6h-7z"/>
<g transform="translate(720.0,1185.5) rotate(-38.7)" fill="none">
<ellipse rx="93.9" ry="63.8" stroke="#5a5a5a" stroke-width="1.0" stroke-opacity="0.75"/>
<ellipse rx="78.9" ry="53.6" stroke="#5a5a5a" stroke-width="1.0" stroke-opacity="0.75"/>
<ellipse rx="70.0" ry="47.6" stroke="#5a5a5a" stroke-width="1.0" stroke-opacity="0.75"/>
<ellipse rx="65.3" ry="44.3" stroke="#1a1a00" stroke-width="0.95" stroke-opacity="0.33"/>
<ellipse rx="60.6" ry="41.2" stroke="#1a1a00" stroke-width="0.95" stroke-opacity="0.33"/>
<ellipse rx="55.6" ry="37.8" stroke="#1a1a00" stroke-width="0.95" stroke-opacity="0.33"/>
<ellipse rx="49.7" ry="33.8" stroke="#1a1a00" stroke-width="0.95" stroke-opacity="0.33"/>
<ellipse rx="44.1" ry="30.0" stroke="#1a1a00" stroke-width="0.95" stroke-opacity="0.33"/>
<ellipse rx="38.8" ry="26.3" stroke="#1a1a00" stroke-width="0.95" stroke-opacity="0.33"/>
<ellipse rx="32.8" ry="22.3" stroke="#1a1a00" stroke-width="0.95" stroke-opacity="0.33"/>
<ellipse rx="26.9" ry="18.2" stroke="#1a1a00" stroke-width="0.95" stroke-opacity="0.33"/>
<ellipse rx="20.8" ry="14.2" stroke="#1a1a00" stroke-width="0.95" stroke-opacity="0.33"/>
<ellipse rx="15.9" ry="10.8" stroke="#1a1a00" stroke-width="0.95" stroke-opacity="0.33"/>
<ellipse rx="10.3" ry="7.0" stroke="#1a1a00" stroke-width="0.95" stroke-opacity="0.33"/>
</g>
<circle cx="721.0" cy="1184.5" r="5.2" fill="#d00000"/>
<rect x="588.0" y="1032.6" width="276.0" height="274.8000000000002" fill="none" stroke="#aaa" stroke-width="1.2" stroke-dasharray="3 1"/>
<rect x="259.7" y="1375.5" width="275.7" height="273.5" fill="#e5e5e5"/>
<path fill="#d7dceb" shape-rendering="crispEdges" d="M260 1444h7v7h-7zM466 1451h7v7h-7zM349 1471h7v7h-7zM329 1478h13v7h-13zM308 1485h7v7h-7zM315 1492h7v7h-7zM267 1512h6v7h-6zM267 1526h6v7h-6zM446 1553h7v7h-7zM439 1560h7v7h-7zM425 1587h7v7h-7zM280 1594h7v7h-7zM411 1594h21v7h-21zM425 1601h7v7h-7zM308 1628h14v7h-14zM356 1628h7v7h-7zM377 1628h7v7h-7zM349 1635h14v7h-14zM391 1635h7v7h-7z"/>
<path fill="#d2d7eb" shape-rendering="crispEdges" d="M411 1444h14v7h-14zM432 1444h14v7h-14zM453 1444h7v7h-7zM260 1451h7v7h-7zM391 1451h13v7h-13zM473 1458h7v6h-7zM363 1464h14v7h-14zM356 1471h7v7h-7zM480 1471h7v7h-7zM322 1485h14v7h-14zM294 1492h21v7h-21zM329 1492h7v7h-7zM301 1499h7v6h-7zM315 1499h7v6h-7zM280 1505h14v7h-14zM301 1505h7v7h-7zM473 1505h7v7h-7zM273 1512h14v7h-14zM273 1519h7v7h-7zM287 1519h7v7h-7zM273 1526h7v7h-7zM287 1526h7v7h-7zM273 1533h14v7h-14zM267 1540h13v6h-13zM453 1540h7v6h-7zM267 1546h6v7h-6zM446 1546h7v7h-7zM267 1553h6v7h-6zM267 1560h6v7h-6zM273 1567h7v7h-7zM432 1567h7v7h-7zM267 1574h13v7h-13zM411 1581h7v6h-7zM280 1587h7v7h-7zM287 1594h14v7h-14zM404 1594h7v7h-7zM287 1601h7v7h-7zM418 1601h7v7h-7zM294 1608h14v7h-14zM404 1608h7v7h-7zM418 1608h7v7h-7zM260 1615h7v7h-7zM336 1615h13v7h-13zM398 1615h6v7h-6zM418 1615h7v7h-7zM260 1622h7v6h-7zM308 1622h7v6h-7zM329 1622h13v6h-13zM356 1622h7v6h-7zM384 1622h7v6h-7zM260 1628h7v7h-7zM322 1628h27v7h-27zM363 1628h14v7h-14zM384 1628h14v7h-14zM260 1635h7v7h-7zM336 1635h6v7h-6zM363 1635h14v7h-14zM294 1642h7v7h-7zM308 1642h7v7h-7zM439 1642h14v7h-14z"/>
<path fill="#c8d2eb" shape-rendering="crispEdges" d="M425 1444h7v7h-7zM446 1451h7v7h-7zM260 1478h7v7h-7zM356 1478h7v7h-7zM473 1478h7v7h-7zM473 1485h7v7h-7zM322 1499h7v6h-7zM315 1505h7v7h-7zM287 1512h14v7h-14zM308 1512h7v7h-7zM280 1519h7v7h-7zM466 1519h7v7h-7zM308 1526h7v7h-7zM287 1533h7v7h-7zM453 1533h7v7h-7zM280 1540h7v6h-7zM280 1546h7v7h-7zM280 1553h14v7h-14zM280 1560h14v7h-14zM280 1567h21v7h-21zM418 1574h7v7h-7zM287 1581h7v6h-7zM301 1581h7v6h-7zM287 1587h21v7h-21zM301 1601h7v7h-7zM398 1601h6v7h-6zM308 1608h7v7h-7zM336 1608h6v7h-6zM349 1608h7v7h-7zM363 1608h14v7h-14zM391 1608h7v7h-7zM329 1615h7v7h-7zM349 1615h7v7h-7zM363 1615h7v7h-7zM377 1615h21v7h-21zM349 1622h7v6h-7zM377 1622h7v6h-7zM315 1642h7v7h-7zM432 1642h7v7h-7z"/>
<path fill="#cdd2eb" shape-rendering="crispEdges" d="M446 1444h7v7h-7zM384 1458h7v6h-7zM466 1458h7v6h-7zM363 1471h7v7h-7zM473 1471h7v7h-7zM308 1499h7v6h-7zM294 1505h7v7h-7zM301 1519h7v7h-7zM287 1546h7v7h-7zM273 1560h7v7h-7zM418 1581h7v6h-7zM315 1608h7v7h-7zM384 1608h7v7h-7zM322 1622h7v6h-7zM370 1622h7v6h-7zM349 1628h7v7h-7zM301 1642h7v7h-7z"/>
<path fill="#becdeb" shape-rendering="crispEdges" d="M404 1451h14v7h-14zM439 1451h7v7h-7zM377 1464h7v7h-7zM260 1499h7v6h-7zM329 1499h7v6h-7zM260 1505h7v7h-7zM322 1512h7v7h-7zM466 1512h7v7h-7zM315 1519h7v7h-7zM301 1546h7v7h-7zM294 1553h14v7h-14zM301 1560h7v7h-7zM315 1587h7v7h-7zM404 1587h7v7h-7zM260 1594h7v7h-7zM301 1594h7v7h-7zM377 1594h7v7h-7zM356 1615h7v7h-7zM370 1615h7v7h-7zM322 1642h7v7h-7zM404 1642h7v7h-7z"/>
<path fill="#aabef0" shape-rendering="crispEdges" d="M418 1451h7v7h-7zM453 1458h7v6h-7zM384 1464h7v7h-7zM363 1478h7v7h-7zM356 1485h7v7h-7zM466 1492h7v7h-7zM460 1512h6v7h-6zM260 1519h7v7h-7zM260 1526h7v7h-7zM260 1540h7v6h-7zM439 1546h7v7h-7zM308 1553h7v7h-7zM425 1560h7v7h-7zM418 1567h7v7h-7zM308 1581h7v6h-7zM356 1594h7v7h-7zM398 1642h6v7h-6z"/>
<path fill="#afc3eb" shape-rendering="crispEdges" d="M425 1451h7v7h-7zM398 1458h6v6h-6zM439 1458h7v6h-7zM453 1464h7v7h-7zM370 1471h14v7h-14zM349 1485h7v7h-7zM466 1485h7v7h-7zM466 1505h7v7h-7zM308 1567h7v7h-7zM329 1594h13v7h-13zM377 1642h7v7h-7z"/>
<path fill="#b4c8eb" shape-rendering="crispEdges" d="M432 1451h7v7h-7z"/>
<path fill="#cdd7eb" shape-rendering="crispEdges" d="M453 1451h13v7h-13zM260 1458h7v6h-7zM260 1464h7v7h-7zM473 1464h7v7h-7zM349 1478h7v7h-7zM336 1485h13v7h-13zM473 1492h7v7h-7zM473 1499h7v6h-7zM301 1512h7v7h-7zM280 1526h7v7h-7zM460 1526h6v7h-6zM294 1533h7v7h-7zM273 1546h7v7h-7zM273 1553h7v7h-7zM439 1553h7v7h-7zM432 1560h7v7h-7zM280 1574h21v7h-21zM425 1574h7v7h-7zM280 1581h7v6h-7zM398 1594h6v7h-6zM294 1601h7v7h-7zM404 1601h7v7h-7zM398 1608h6v7h-6zM308 1615h21v7h-21zM342 1622h7v6h-7zM363 1622h7v6h-7zM391 1622h7v6h-7z"/>
<path fill="#b9c8eb" shape-rendering="crispEdges" d="M391 1458h7v6h-7zM260 1485h7v7h-7zM342 1492h7v7h-7zM260 1512h7v7h-7zM315 1512h7v7h-7zM322 1519h7v7h-7zM301 1526h7v7h-7zM308 1540h7v6h-7zM432 1553h7v7h-7zM294 1560h7v7h-7zM411 1574h7v7h-7zM260 1581h7v6h-7zM308 1594h14v7h-14zM384 1594h7v7h-7zM329 1601h7v7h-7zM349 1601h7v7h-7zM370 1601h21v7h-21zM260 1608h7v7h-7zM342 1642h7v7h-7zM425 1642h7v7h-7z"/>
<path fill="#a0b9f0" shape-rendering="crispEdges" d="M404 1458h7v6h-7zM315 1526h7v7h-7zM315 1533h7v7h-7zM446 1533h7v7h-7zM308 1560h7v7h-7zM260 1567h7v7h-7zM342 1601h7v7h-7zM384 1642h7v7h-7z"/>
<path fill="#82a5f0" shape-rendering="crispEdges" d="M411 1458h7v6h-7zM439 1464h7v7h-7zM336 1505h13v7h-13zM315 1553h7v7h-7zM315 1560h7v7h-7zM342 1587h14v7h-14z"/>
<path fill="#91aff0" shape-rendering="crispEdges" d="M418 1458h7v6h-7zM432 1458h7v6h-7zM398 1464h6v7h-6zM453 1471h7v7h-7zM460 1485h6v7h-6zM460 1492h6v7h-6zM460 1505h6v7h-6zM439 1540h7v6h-7zM418 1560h7v7h-7zM349 1642h7v7h-7zM370 1642h7v7h-7z"/>
<path fill="#96aff0" shape-rendering="crispEdges" d="M425 1458h7v6h-7zM342 1499h7v6h-7zM315 1540h7v6h-7zM308 1546h14v7h-14zM315 1574h7v7h-7zM391 1581h7v6h-7zM377 1587h7v7h-7zM342 1594h7v7h-7z"/>
<path fill="#a5bef0" shape-rendering="crispEdges" d="M446 1458h7v6h-7zM466 1499h7v6h-7zM260 1546h7v7h-7zM260 1574h7v7h-7z"/>
<path fill="#c3cdeb" shape-rendering="crispEdges" d="M460 1458h6v6h-6zM466 1464h7v7h-7zM260 1471h7v7h-7zM260 1492h7v7h-7zM336 1492h6v7h-6zM329 1505h7v7h-7zM294 1519h7v7h-7zM294 1526h7v7h-7zM308 1533h7v7h-7zM287 1540h7v6h-7zM301 1540h7v6h-7zM301 1574h7v7h-7zM294 1581h7v6h-7zM398 1587h6v7h-6zM322 1594h7v7h-7zM260 1601h7v7h-7zM308 1601h14v7h-14zM336 1601h6v7h-6zM322 1608h14v7h-14zM377 1608h7v7h-7zM411 1642h14v7h-14z"/>
<path fill="#9bb4f0" shape-rendering="crispEdges" d="M391 1464h7v7h-7zM460 1499h6v6h-6zM329 1512h7v7h-7zM453 1519h7v7h-7zM322 1526h7v7h-7zM453 1526h7v7h-7zM260 1533h7v7h-7zM260 1560h7v7h-7zM411 1567h7v7h-7zM398 1581h6v6h-6zM363 1594h7v7h-7zM391 1642h7v7h-7z"/>
<path fill="#78a0f0" shape-rendering="crispEdges" d="M404 1464h7v7h-7zM453 1512h7v7h-7zM322 1546h7v7h-7zM322 1560h7v7h-7zM398 1574h6v7h-6zM336 1581h6v6h-6z"/>
<path fill="#7da0f0" shape-rendering="crispEdges" d="M411 1464h7v7h-7zM384 1471h7v7h-7zM453 1485h7v7h-7zM356 1492h7v7h-7zM384 1581h7v6h-7zM370 1587h7v7h-7z"/>
<path fill="#5f91f5" shape-rendering="crispEdges" d="M418 1464h7v7h-7zM404 1471h7v7h-7zM439 1471h7v7h-7zM342 1512h7v7h-7zM446 1519h7v7h-7zM342 1581h7v6h-7z"/>
<path fill="#6e9bf0" shape-rendering="crispEdges" d="M425 1464h7v7h-7zM370 1485h7v7h-7zM349 1499h7v6h-7zM453 1505h7v7h-7z"/>
<path fill="#6496f5" shape-rendering="crispEdges" d="M432 1464h7v7h-7zM446 1471h7v7h-7zM453 1499h7v6h-7zM370 1581h7v6h-7z"/>
<path fill="#8caaf0" shape-rendering="crispEdges" d="M446 1464h7v7h-7zM370 1478h7v7h-7zM404 1574h7v7h-7zM349 1594h7v7h-7z"/>
<path fill="#a5b9f0" shape-rendering="crispEdges" d="M460 1464h6v7h-6zM336 1499h6v6h-6zM322 1587h7v7h-7zM363 1601h7v7h-7z"/>
<path fill="#739bf0" shape-rendering="crispEdges" d="M391 1471h7v7h-7zM453 1492h7v7h-7zM336 1512h6v7h-6zM329 1526h7v7h-7zM322 1540h7v6h-7zM322 1553h7v7h-7zM322 1567h7v7h-7zM377 1581h7v6h-7zM363 1587h7v7h-7z"/>
<path fill="#6e9bf5" shape-rendering="crispEdges" d="M398 1471h6v7h-6zM453 1478h7v7h-7zM356 1587h7v7h-7z"/>
<path fill="#4b82f5" shape-rendering="crispEdges" d="M411 1471h7v7h-7zM384 1478h7v7h-7zM446 1485h7v7h-7zM363 1492h7v7h-7zM398 1560h6v7h-6zM391 1567h7v7h-7z"/>
<path fill="#5a8cf5" shape-rendering="crispEdges" d="M418 1471h7v7h-7zM446 1505h7v7h-7zM446 1512h7v7h-7zM432 1533h7v7h-7zM425 1540h7v6h-7zM329 1567h7v7h-7zM398 1567h6v7h-6zM391 1574h7v7h-7zM363 1581h7v6h-7z"/>
<path fill="#558cf5" shape-rendering="crispEdges" d="M425 1471h7v7h-7zM439 1492h7v7h-7zM336 1519h6v7h-6zM439 1526h7v7h-7z"/>
<path fill="#5087f5" shape-rendering="crispEdges" d="M432 1471h7v7h-7zM404 1478h7v7h-7zM432 1478h14v7h-14zM370 1492h7v7h-7zM446 1492h7v7h-7zM439 1519h7v7h-7zM329 1533h7v7h-7zM425 1533h7v7h-7zM329 1540h7v6h-7zM329 1553h7v7h-7zM411 1553h7v7h-7zM404 1560h7v7h-7zM336 1567h6v7h-6zM342 1574h7v7h-7zM384 1574h7v7h-7zM349 1581h7v6h-7z"/>
<path fill="#b4c3eb" shape-rendering="crispEdges" d="M460 1471h13v7h-13zM460 1519h6v7h-6zM301 1533h7v7h-7zM260 1553h7v7h-7zM301 1567h7v7h-7zM308 1574h7v7h-7zM391 1594h7v7h-7zM322 1601h7v7h-7zM342 1608h7v7h-7zM356 1608h7v7h-7zM329 1642h7v7h-7zM363 1642h7v7h-7z"/>
<path fill="#6996f5" shape-rendering="crispEdges" d="M377 1478h7v7h-7zM446 1478h7v7h-7zM425 1546h7v7h-7z"/>
<path fill="#05b900" shape-rendering="crispEdges" d="M391 1478h13v7h-13zM425 1478h7v7h-7zM377 1485h14v7h-14zM439 1485h7v7h-7zM446 1499h7v6h-7zM439 1505h7v7h-7zM349 1519h7v7h-7zM336 1526h6v7h-6zM336 1546h6v7h-6zM418 1546h7v7h-7zM404 1553h7v7h-7zM329 1560h7v7h-7zM349 1567h7v7h-7zM363 1567h7v7h-7zM384 1567h7v7h-7zM349 1574h7v7h-7zM370 1574h14v7h-14zM356 1581h7v6h-7z"/>
<path fill="#4682f5" shape-rendering="crispEdges" d="M411 1478h7v7h-7zM349 1505h7v7h-7z"/>
<path fill="#0fb900" shape-rendering="crispEdges" d="M418 1478h7v7h-7zM336 1533h6v7h-6zM336 1540h6v6h-6zM411 1546h7v7h-7zM391 1560h7v7h-7zM342 1567h7v7h-7zM370 1567h7v7h-7zM356 1574h7v7h-7z"/>
<path fill="#96b4f0" shape-rendering="crispEdges" d="M460 1478h6v7h-6zM349 1492h7v7h-7zM432 1546h7v7h-7zM425 1553h7v7h-7zM315 1581h7v6h-7zM329 1587h7v7h-7zM384 1587h7v7h-7zM370 1594h7v7h-7zM356 1642h7v7h-7z"/>
<path fill="#afbef0" shape-rendering="crispEdges" d="M466 1478h7v7h-7z"/>
<path fill="#87aaf0" shape-rendering="crispEdges" d="M363 1485h7v7h-7zM329 1519h7v7h-7zM446 1526h7v7h-7zM322 1533h7v7h-7zM315 1567h7v7h-7zM322 1581h14v6h-14zM336 1587h6v7h-6z"/>
<path fill="#0fbe00" shape-rendering="crispEdges" d="M391 1485h7v7h-7zM432 1485h7v7h-7zM356 1512h7v7h-7zM432 1512h7v7h-7zM342 1546h7v7h-7zM349 1560h7v7h-7z"/>
<path fill="#19be00" shape-rendering="crispEdges" d="M398 1485h6v7h-6zM363 1505h7v7h-7zM432 1505h7v7h-7zM349 1526h7v7h-7zM398 1553h6v7h-6z"/>
<path fill="#23be00" shape-rendering="crispEdges" d="M404 1485h7v7h-7zM432 1499h7v6h-7zM404 1546h7v7h-7zM370 1560h14v7h-14z"/>
<path fill="#32c300" shape-rendering="crispEdges" d="M411 1485h7v7h-7zM370 1505h7v7h-7zM363 1512h7v7h-7z"/>
<path fill="#1ebe00" shape-rendering="crispEdges" d="M418 1485h7v7h-7zM425 1526h7v7h-7zM418 1533h7v7h-7zM356 1560h7v7h-7z"/>
<path fill="#14be00" shape-rendering="crispEdges" d="M425 1485h7v7h-7zM377 1492h7v7h-7zM432 1492h7v7h-7zM370 1499h7v6h-7zM432 1519h7v7h-7zM342 1540h7v6h-7zM342 1553h7v7h-7zM342 1560h7v7h-7zM384 1560h7v7h-7z"/>
<path fill="#28be00" shape-rendering="crispEdges" d="M384 1492h7v7h-7zM356 1519h7v7h-7zM425 1519h7v7h-7zM349 1553h7v7h-7z"/>
<path fill="#46c300" shape-rendering="crispEdges" d="M391 1492h7v7h-7zM425 1512h7v7h-7zM411 1533h7v7h-7z"/>
<path fill="#4bc300" shape-rendering="crispEdges" d="M398 1492h6v7h-6zM418 1492h7v7h-7zM384 1553h7v7h-7z"/>
<path fill="#5ac800" shape-rendering="crispEdges" d="M404 1492h7v7h-7zM404 1540h7v6h-7z"/>
<path fill="#64c800" shape-rendering="crispEdges" d="M411 1492h7v7h-7zM384 1499h7v6h-7zM356 1546h7v7h-7z"/>
<path fill="#3cc300" shape-rendering="crispEdges" d="M425 1492h7v7h-7zM425 1499h7v6h-7zM418 1526h7v7h-7z"/>
<path fill="#6491f5" shape-rendering="crispEdges" d="M356 1499h7v6h-7zM418 1553h7v7h-7zM329 1574h7v7h-7z"/>
<path fill="#00b900" shape-rendering="crispEdges" d="M363 1499h7v6h-7zM342 1519h7v7h-7zM432 1526h7v7h-7zM336 1574h6v7h-6z"/>
<path fill="#37c300" shape-rendering="crispEdges" d="M377 1499h7v6h-7zM349 1546h7v7h-7zM391 1553h7v7h-7zM363 1560h7v7h-7z"/>
<path fill="#91d700" shape-rendering="crispEdges" d="M391 1499h7v6h-7zM404 1499h7v6h-7zM370 1546h7v7h-7z"/>
<path fill="#9bd700" shape-rendering="crispEdges" d="M398 1499h6v6h-6zM377 1512h7v7h-7zM411 1526h7v7h-7z"/>
<path fill="#82d200" shape-rendering="crispEdges" d="M411 1499h7v6h-7zM384 1546h7v7h-7z"/>
<path fill="#6ecd00" shape-rendering="crispEdges" d="M418 1499h7v6h-7zM377 1505h7v7h-7zM418 1505h7v7h-7z"/>
<path fill="#0ab900" shape-rendering="crispEdges" d="M439 1499h7v6h-7zM349 1512h7v7h-7zM342 1526h7v7h-7zM342 1533h7v7h-7zM418 1540h7v6h-7zM329 1546h7v7h-7zM336 1553h6v7h-6zM336 1560h6v7h-6zM356 1567h7v7h-7zM377 1567h7v7h-7zM363 1574h7v7h-7z"/>
<path fill="#c3d2eb" shape-rendering="crispEdges" d="M308 1505h7v7h-7zM322 1505h7v7h-7zM294 1546h7v7h-7zM425 1567h7v7h-7zM391 1601h7v7h-7z"/>
<path fill="#4b87f5" shape-rendering="crispEdges" d="M356 1505h7v7h-7z"/>
<path fill="#a0dc00" shape-rendering="crispEdges" d="M384 1505h7v7h-7zM411 1519h7v7h-7z"/>
<path fill="#d7eb00" shape-rendering="crispEdges" d="M391 1505h7v7h-7zM398 1533h6v7h-6zM377 1540h7v6h-7z"/>
<path fill="#d2eb00" shape-rendering="crispEdges" d="M398 1505h6v7h-6zM384 1512h7v7h-7zM370 1540h7v6h-7zM384 1540h7v6h-7z"/>
<path fill="#cdeb00" shape-rendering="crispEdges" d="M404 1505h7v7h-7zM404 1526h7v7h-7z"/>
<path fill="#bee600" shape-rendering="crispEdges" d="M411 1505h7v7h-7zM411 1512h7v7h-7z"/>
<path fill="#50c800" shape-rendering="crispEdges" d="M425 1505h7v7h-7zM356 1526h7v7h-7z"/>
<path fill="#69cd00" shape-rendering="crispEdges" d="M370 1512h7v7h-7zM363 1519h7v7h-7zM418 1519h7v7h-7zM363 1546h7v7h-7zM391 1546h7v7h-7zM377 1553h7v7h-7z"/>
<path fill="#ffff00" shape-rendering="crispEdges" d="M391 1512h13v7h-13zM398 1526h6v7h-6z"/>
<path fill="#e6f500" shape-rendering="crispEdges" d="M404 1512h7v7h-7zM377 1519h7v7h-7zM404 1519h7v7h-7zM377 1526h7v7h-7zM377 1533h7v7h-7z"/>
<path fill="#7dd200" shape-rendering="crispEdges" d="M418 1512h7v7h-7zM363 1526h7v7h-7z"/>
<path fill="#5587f5" shape-rendering="crispEdges" d="M439 1512h7v7h-7z"/>
<path fill="#bec8eb" shape-rendering="crispEdges" d="M308 1519h7v7h-7zM294 1540h7v6h-7zM446 1540h7v6h-7zM404 1581h7v6h-7zM308 1587h7v7h-7zM391 1587h7v7h-7zM356 1601h7v7h-7z"/>
<path fill="#aadc00" shape-rendering="crispEdges" d="M370 1519h7v7h-7zM363 1533h7v7h-7z"/>
<path fill="#faff00" shape-rendering="crispEdges" d="M384 1519h7v7h-7zM391 1526h7v7h-7z"/>
<path fill="#ffdc00" shape-rendering="crispEdges" d="M391 1519h7v7h-7z"/>
<path fill="#ffd200" shape-rendering="crispEdges" d="M398 1519h6v7h-6z"/>
<path fill="#dcf000" shape-rendering="crispEdges" d="M370 1526h7v7h-7z"/>
<path fill="#ffc300" shape-rendering="crispEdges" d="M384 1526h7v7h-7z"/>
<path fill="#2dc300" shape-rendering="crispEdges" d="M349 1533h7v7h-7z"/>
<path fill="#73cd00" shape-rendering="crispEdges" d="M356 1533h7v7h-7z"/>
<path fill="#e1f000" shape-rendering="crispEdges" d="M370 1533h7v7h-7z"/>
<path fill="#fff500" shape-rendering="crispEdges" d="M384 1533h7v7h-7z"/>
<path fill="#f5fa00" shape-rendering="crispEdges" d="M391 1533h7v7h-7z"/>
<path fill="#96d700" shape-rendering="crispEdges" d="M404 1533h7v7h-7z"/>
<path fill="#6e96f5" shape-rendering="crispEdges" d="M439 1533h7v7h-7zM432 1540h7v6h-7zM411 1560h7v7h-7z"/>
<path fill="#41c300" shape-rendering="crispEdges" d="M349 1540h7v6h-7zM398 1546h6v7h-6z"/>
<path fill="#78cd00" shape-rendering="crispEdges" d="M356 1540h7v6h-7z"/>
<path fill="#87d200" shape-rendering="crispEdges" d="M363 1540h7v6h-7zM377 1546h7v7h-7z"/>
<path fill="#b4e100" shape-rendering="crispEdges" d="M391 1540h7v6h-7z"/>
<path fill="#8cd700" shape-rendering="crispEdges" d="M398 1540h6v6h-6z"/>
<path fill="#2dbe00" shape-rendering="crispEdges" d="M411 1540h7v6h-7z"/>
<path fill="#4bc800" shape-rendering="crispEdges" d="M356 1553h14v7h-14z"/>
<path fill="#55c800" shape-rendering="crispEdges" d="M370 1553h7v7h-7z"/>
<path fill="#7da5f0" shape-rendering="crispEdges" d="M404 1567h7v7h-7zM322 1574h7v7h-7z"/>
<path fill="#afc3f0" shape-rendering="crispEdges" d="M260 1587h7v7h-7zM336 1642h6v7h-6z"/>
<path fill="#d7d7eb" shape-rendering="crispEdges" d="M411 1587h7v7h-7z"/>
<g transform="translate(389.7,1528.0) rotate(-40.0)" fill="none">
<ellipse rx="92.0" ry="66.0" stroke="#5a5a5a" stroke-width="1.0" stroke-opacity="0.75"/>
<ellipse rx="77.3" ry="55.4" stroke="#5a5a5a" stroke-width="1.0" stroke-opacity="0.75"/>
<ellipse rx="68.6" ry="49.2" stroke="#5a5a5a" stroke-width="1.0" stroke-opacity="0.75"/>
<ellipse rx="63.9" ry="45.9" stroke="#1a1a00" stroke-width="0.95" stroke-opacity="0.33"/>
<ellipse rx="59.3" ry="42.6" stroke="#1a1a00" stroke-width="0.95" stroke-opacity="0.33"/>
<ellipse rx="54.5" ry="39.1" stroke="#1a1a00" stroke-width="0.95" stroke-opacity="0.33"/>
<ellipse rx="48.7" ry="34.9" stroke="#1a1a00" stroke-width="0.95" stroke-opacity="0.33"/>
<ellipse rx="43.2" ry="31.0" stroke="#1a1a00" stroke-width="0.95" stroke-opacity="0.33"/>
<ellipse rx="38.0" ry="27.3" stroke="#1a1a00" stroke-width="0.95" stroke-opacity="0.33"/>
<ellipse rx="32.1" ry="23.0" stroke="#1a1a00" stroke-width="0.95" stroke-opacity="0.33"/>
<ellipse rx="26.3" ry="18.9" stroke="#1a1a00" stroke-width="0.95" stroke-opacity="0.33"/>
<ellipse rx="20.4" ry="14.7" stroke="#1a1a00" stroke-width="0.95" stroke-opacity="0.33"/>
<ellipse rx="15.5" ry="11.2" stroke="#1a1a00" stroke-width="0.95" stroke-opacity="0.33"/>
<ellipse rx="10.1" ry="7.3" stroke="#1a1a00" stroke-width="0.95" stroke-opacity="0.33"/>
</g>
<circle cx="390.7" cy="1527.0" r="5.2" fill="#d00000"/>
<rect x="259.7" y="1375.5" width="275.7" height="273.5" fill="none" stroke="#aaa" stroke-width="1.2" stroke-dasharray="3 1"/>
<rect x="588.6" y="1375.5" width="275.4" height="273.9000000000001" fill="#e5e5e5"/>
<path fill="#d2d7eb" shape-rendering="crispEdges" d="M754 1444h20v7h-20zM740 1451h7v7h-7zM781 1451h7v7h-7zM589 1465h6v6h-6zM699 1465h7v6h-7zM685 1471h7v7h-7zM795 1471h7v7h-7zM671 1478h14v7h-14zM651 1485h6v7h-6zM630 1492h7v7h-7zM644 1492h13v7h-13zM802 1492h7v7h-7zM602 1499h14v7h-14zM630 1499h7v7h-7zM795 1499h14v7h-14zM630 1506h7v6h-7zM630 1512h7v7h-7zM595 1519h7v7h-7zM788 1526h7v7h-7zM595 1533h21v7h-21zM602 1540h14v7h-14zM781 1540h7v7h-7zM595 1547h7v7h-7zM774 1547h7v7h-7zM609 1554h7v6h-7zM768 1554h6v6h-6zM609 1560h7v7h-7zM595 1567h14v7h-14zM595 1574h7v7h-7zM754 1574h7v7h-7zM595 1581h21v7h-21zM747 1581h7v7h-7zM740 1595h14v6h-14zM733 1601h21v7h-21zM616 1608h7v7h-7zM630 1608h7v7h-7zM719 1608h7v7h-7zM733 1608h7v7h-7zM630 1615h7v7h-7zM726 1615h21v7h-21zM630 1622h14v7h-14zM651 1622h13v7h-13zM671 1622h7v7h-7zM706 1622h13v7h-13zM726 1622h7v7h-7zM644 1629h62v7h-62zM719 1629h7v7h-7zM678 1636h7v7h-7zM713 1636h13v7h-13zM623 1643h14v6h-14zM774 1643h7v6h-7z"/>
<path fill="#d7dceb" shape-rendering="crispEdges" d="M726 1451h7v7h-7zM589 1458h6v7h-6zM788 1458h7v7h-7zM623 1485h14v7h-14zM664 1485h7v7h-7zM616 1492h14v7h-14zM602 1506h7v6h-7zM595 1526h14v7h-14zM788 1533h7v7h-7zM595 1554h7v6h-7zM768 1560h6v7h-6zM602 1588h7v7h-7zM609 1595h7v6h-7zM609 1601h7v7h-7zM740 1608h14v7h-14zM713 1629h6v7h-6zM706 1636h7v7h-7zM589 1643h6v6h-6z"/>
<path fill="#cdd7eb" shape-rendering="crispEdges" d="M733 1451h7v7h-7zM754 1451h7v7h-7zM768 1451h6v7h-6zM781 1458h7v7h-7zM788 1465h7v6h-7zM637 1492h7v7h-7zM623 1499h7v7h-7zM637 1499h7v7h-7zM609 1506h7v6h-7zM637 1506h7v6h-7zM795 1506h7v6h-7zM609 1512h7v7h-7zM602 1519h7v7h-7zM602 1574h7v7h-7zM616 1574h7v7h-7zM747 1574h7v7h-7zM740 1588h7v7h-7zM733 1595h7v6h-7zM623 1608h7v7h-7zM644 1622h7v7h-7zM664 1622h7v7h-7zM678 1622h7v7h-7zM699 1622h7v7h-7zM719 1622h7v7h-7z"/>
<path fill="#c3cdeb" shape-rendering="crispEdges" d="M747 1451h7v7h-7zM733 1458h7v7h-7zM774 1458h7v7h-7zM781 1465h7v6h-7zM692 1471h7v7h-7zM589 1478h6v7h-6zM685 1478h7v7h-7zM589 1492h6v7h-6zM644 1506h7v6h-7zM774 1540h7v7h-7zM616 1554h7v6h-7zM609 1567h7v7h-7zM616 1581h7v7h-7zM616 1588h7v7h-7zM630 1595h7v6h-7zM719 1595h7v6h-7zM630 1601h14v7h-14zM678 1608h7v7h-7zM706 1608h7v7h-7zM589 1615h6v7h-6zM651 1615h6v7h-6zM692 1615h7v7h-7zM706 1615h7v7h-7zM637 1643h7v6h-7z"/>
<path fill="#c8d2eb" shape-rendering="crispEdges" d="M761 1451h7v7h-7zM589 1471h6v7h-6zM671 1485h7v7h-7zM657 1492h7v7h-7zM623 1506h7v6h-7zM623 1512h7v7h-7zM623 1519h14v7h-14zM616 1526h7v7h-7zM616 1540h14v7h-14zM602 1547h7v7h-7zM602 1560h7v7h-7zM761 1560h7v7h-7zM754 1567h7v7h-7zM609 1574h7v7h-7zM609 1588h7v7h-7zM733 1588h7v7h-7zM616 1595h7v6h-7zM623 1601h7v7h-7zM644 1601h7v7h-7zM719 1601h14v7h-14zM637 1608h7v7h-7zM651 1608h13v7h-13zM685 1608h7v7h-7zM699 1608h7v7h-7zM713 1608h6v7h-6zM726 1608h7v7h-7zM644 1615h7v7h-7zM678 1615h7v7h-7zM719 1615h7v7h-7zM589 1622h6v7h-6zM685 1622h7v7h-7zM644 1643h7v6h-7zM761 1643h7v6h-7z"/>
<path fill="#cdd2eb" shape-rendering="crispEdges" d="M774 1451h7v7h-7zM589 1485h6v7h-6zM664 1492h7v7h-7zM795 1492h7v7h-7zM644 1499h13v7h-13zM616 1506h7v6h-7zM616 1512h7v7h-7zM609 1519h14v7h-14zM609 1526h7v7h-7zM609 1547h7v7h-7zM602 1554h7v6h-7zM616 1567h7v7h-7zM623 1595h7v6h-7zM726 1595h7v6h-7zM616 1601h7v7h-7zM637 1615h7v7h-7zM699 1615h7v7h-7zM713 1615h6v7h-6zM692 1622h7v7h-7zM589 1629h6v7h-6zM754 1643h7v6h-7zM768 1643h6v6h-6z"/>
<path fill="#becdeb" shape-rendering="crispEdges" d="M719 1458h7v7h-7zM713 1465h6v6h-6zM788 1471h7v7h-7zM795 1485h7v7h-7zM589 1499h6v7h-6zM657 1506h7v6h-7zM637 1512h7v7h-7zM788 1512h7v7h-7zM623 1526h21v7h-21zM616 1533h7v7h-7zM781 1533h7v7h-7zM616 1547h7v7h-7zM623 1554h7v6h-7zM616 1560h14v7h-14zM630 1574h7v7h-7zM623 1581h7v7h-7zM740 1581h7v7h-7zM726 1588h7v7h-7zM651 1601h13v7h-13zM706 1601h7v7h-7zM589 1608h6v7h-6zM657 1615h14v7h-14zM685 1615h7v7h-7zM740 1643h7v6h-7z"/>
<path fill="#b4c3eb" shape-rendering="crispEdges" d="M726 1458h7v7h-7zM781 1471h7v7h-7zM678 1485h7v7h-7zM671 1492h7v7h-7zM644 1519h7v7h-7zM781 1526h7v7h-7zM589 1547h6v7h-6zM630 1567h7v7h-7zM740 1574h7v7h-7zM589 1595h6v6h-6zM637 1595h7v6h-7zM692 1601h7v7h-7zM664 1608h7v7h-7z"/>
<path fill="#b4c8eb" shape-rendering="crispEdges" d="M740 1458h14v7h-14zM644 1526h7v7h-7zM630 1560h7v7h-7zM699 1601h7v7h-7zM713 1601h6v7h-6z"/>
<path fill="#9bb4f0" shape-rendering="crispEdges" d="M754 1458h7v7h-7zM788 1499h7v7h-7zM781 1519h7v7h-7zM637 1581h7v7h-7zM651 1595h6v6h-6zM699 1595h7v6h-7zM685 1601h7v7h-7zM726 1643h7v6h-7z"/>
<path fill="#afc3eb" shape-rendering="crispEdges" d="M761 1458h7v7h-7zM630 1547h7v7h-7zM623 1574h7v7h-7zM644 1588h7v7h-7zM664 1601h7v7h-7zM671 1608h7v7h-7zM692 1608h7v7h-7zM733 1643h7v6h-7z"/>
<path fill="#aabef0" shape-rendering="crispEdges" d="M768 1458h6v7h-6zM781 1478h7v7h-7zM774 1533h7v7h-7zM630 1540h7v7h-7zM761 1547h7v7h-7zM589 1560h6v7h-6zM630 1581h7v7h-7zM726 1581h7v7h-7zM706 1595h7v6h-7z"/>
<path fill="#d7d7eb" shape-rendering="crispEdges" d="M795 1458h7v7h-7z"/>
<path fill="#b9c8eb" shape-rendering="crispEdges" d="M706 1465h7v6h-7zM699 1471h7v7h-7zM788 1478h7v7h-7zM657 1499h7v7h-7zM651 1506h6v6h-6zM644 1512h7v7h-7zM637 1519h7v7h-7zM630 1533h7v7h-7zM623 1547h7v7h-7zM768 1547h6v7h-6zM761 1554h7v6h-7zM733 1581h7v7h-7zM623 1588h7v7h-7zM637 1588h7v7h-7zM589 1601h6v7h-6zM671 1615h7v7h-7zM651 1643h6v6h-6zM747 1643h7v6h-7z"/>
<path fill="#a0b9f0" shape-rendering="crispEdges" d="M719 1465h7v6h-7zM706 1471h7v7h-7zM692 1478h7v7h-7zM788 1485h7v7h-7zM651 1512h6v7h-6zM589 1519h6v7h-6zM637 1533h7v7h-7zM589 1554h6v6h-6zM589 1581h6v7h-6zM719 1588h7v7h-7z"/>
<path fill="#afc3f0" shape-rendering="crispEdges" d="M726 1465h7v6h-7zM630 1588h7v7h-7zM671 1601h7v7h-7zM719 1643h7v6h-7z"/>
<path fill="#96aff0" shape-rendering="crispEdges" d="M733 1465h7v6h-7zM768 1465h6v6h-6zM589 1526h6v7h-6z"/>
<path fill="#87a5f0" shape-rendering="crispEdges" d="M740 1465h7v6h-7zM699 1643h7v6h-7z"/>
<path fill="#8caaf0" shape-rendering="crispEdges" d="M747 1465h7v6h-7zM761 1465h7v6h-7zM781 1506h7v6h-7zM644 1533h7v7h-7zM754 1554h7v6h-7zM644 1581h7v7h-7zM713 1588h6v7h-6zM678 1595h7v6h-7zM692 1595h7v6h-7zM692 1643h7v6h-7zM706 1643h13v6h-13z"/>
<path fill="#87aaf0" shape-rendering="crispEdges" d="M754 1465h7v6h-7zM774 1471h7v7h-7zM699 1478h7v7h-7zM678 1492h7v7h-7zM774 1519h7v7h-7zM644 1540h7v7h-7zM637 1554h7v6h-7zM637 1560h7v7h-7zM657 1588h7v7h-7zM664 1595h14v6h-14z"/>
<path fill="#a5b9f0" shape-rendering="crispEdges" d="M774 1465h7v6h-7zM685 1485h7v7h-7zM589 1506h6v6h-6zM788 1506h7v6h-7zM781 1512h7v7h-7zM589 1540h6v7h-6zM754 1560h7v7h-7zM637 1574h7v7h-7zM713 1595h6v6h-6zM664 1643h7v6h-7z"/>
<path fill="#91aff0" shape-rendering="crispEdges" d="M713 1471h6v7h-6zM671 1499h7v7h-7zM781 1499h7v7h-7zM657 1512h7v7h-7zM774 1526h7v7h-7zM589 1567h6v7h-6zM740 1567h7v7h-7zM719 1581h7v7h-7zM706 1588h7v7h-7zM685 1595h7v6h-7z"/>
<path fill="#78a0f0" shape-rendering="crispEdges" d="M719 1471h7v7h-7zM692 1485h7v7h-7zM768 1533h6v7h-6zM644 1554h7v6h-7zM740 1560h7v7h-7zM726 1574h7v7h-7zM664 1588h7v7h-7zM699 1588h7v7h-7z"/>
<path fill="#6491f5" shape-rendering="crispEdges" d="M726 1471h7v7h-7zM774 1485h7v7h-7zM747 1554h7v6h-7zM657 1581h7v7h-7zM671 1588h7v7h-7z"/>
<path fill="#558cf5" shape-rendering="crispEdges" d="M733 1471h7v7h-7zM761 1519h7v7h-7zM685 1588h7v7h-7z"/>
<path fill="#6996f5" shape-rendering="crispEdges" d="M740 1471h7v7h-7zM761 1471h7v7h-7zM774 1506h7v6h-7zM664 1512h7v7h-7zM713 1581h6v7h-6z"/>
<path fill="#5f91f5" shape-rendering="crispEdges" d="M747 1471h7v7h-7zM768 1478h6v7h-6zM768 1526h6v7h-6zM651 1533h6v7h-6zM754 1540h7v7h-7zM719 1574h7v7h-7zM706 1581h7v7h-7zM692 1588h7v7h-7z"/>
<path fill="#6e9bf0" shape-rendering="crispEdges" d="M754 1471h7v7h-7zM713 1478h6v7h-6zM671 1506h7v6h-7z"/>
<path fill="#7da0f0" shape-rendering="crispEdges" d="M768 1471h6v7h-6zM651 1526h6v7h-6zM644 1547h7v7h-7zM644 1567h7v7h-7zM644 1574h7v7h-7z"/>
<path fill="#82a5f0" shape-rendering="crispEdges" d="M706 1478h7v7h-7zM781 1492h7v7h-7zM651 1519h6v7h-6zM651 1588h6v7h-6z"/>
<path fill="#4b82f5" shape-rendering="crispEdges" d="M719 1478h7v7h-7zM747 1478h7v7h-7zM761 1492h7v7h-7zM664 1519h7v7h-7zM754 1533h7v7h-7zM747 1540h7v7h-7zM651 1554h6v6h-6zM733 1560h7v7h-7zM726 1567h7v7h-7zM706 1574h7v7h-7z"/>
<path fill="#5a8cf5" shape-rendering="crispEdges" d="M726 1478h7v7h-7zM754 1478h7v7h-7zM699 1485h7v7h-7zM754 1485h7v7h-7zM692 1492h7v7h-7zM774 1492h7v7h-7zM685 1499h7v7h-7zM768 1519h6v7h-6zM761 1533h7v7h-7zM651 1547h6v7h-6zM740 1554h7v6h-7zM651 1560h6v7h-6zM664 1581h7v7h-7zM678 1588h7v7h-7z"/>
<path fill="#05b900" shape-rendering="crispEdges" d="M733 1478h14v7h-14zM706 1485h20v7h-20zM699 1492h14v7h-14zM768 1492h6v7h-6zM692 1499h7v7h-7zM761 1499h7v7h-7zM685 1506h7v6h-7zM761 1506h7v6h-7zM678 1512h7v7h-7zM671 1519h7v7h-7zM664 1533h7v7h-7zM657 1547h7v7h-7zM740 1547h14v7h-14zM719 1560h14v7h-14zM719 1567h7v7h-7zM699 1574h7v7h-7zM713 1574h6v7h-6zM685 1581h14v7h-14z"/>
<path fill="#6496f5" shape-rendering="crispEdges" d="M761 1478h7v7h-7zM754 1547h7v7h-7z"/>
<path fill="#7da5f0" shape-rendering="crispEdges" d="M774 1478h7v7h-7zM685 1492h7v7h-7zM678 1499h7v7h-7zM657 1519h7v7h-7zM761 1540h7v7h-7zM733 1567h7v7h-7z"/>
<path fill="#c3d2eb" shape-rendering="crispEdges" d="M795 1478h7v7h-7zM623 1567h7v7h-7z"/>
<path fill="#0ab900" shape-rendering="crispEdges" d="M726 1485h7v7h-7zM747 1485h7v7h-7zM699 1499h7v7h-7zM664 1526h7v7h-7zM664 1554h7v6h-7zM657 1560h7v7h-7zM664 1574h7v7h-7zM692 1574h7v7h-7z"/>
<path fill="#0fbe00" shape-rendering="crispEdges" d="M733 1485h7v7h-7zM754 1492h7v7h-7zM754 1526h7v7h-7zM657 1540h14v7h-14zM706 1567h7v7h-7zM671 1574h7v7h-7z"/>
<path fill="#0fb900" shape-rendering="crispEdges" d="M740 1485h7v7h-7zM671 1526h7v7h-7zM664 1547h7v7h-7zM664 1560h7v7h-7zM664 1567h7v7h-7zM678 1574h7v7h-7z"/>
<path fill="#4682f5" shape-rendering="crispEdges" d="M761 1485h7v7h-7zM651 1567h6v7h-6z"/>
<path fill="#5087f5" shape-rendering="crispEdges" d="M768 1485h6v7h-6zM768 1499h6v7h-6zM678 1506h7v6h-7zM768 1506h6v6h-6zM768 1512h6v7h-6zM657 1533h7v7h-7zM733 1554h7v6h-7zM699 1581h7v7h-7z"/>
<path fill="#96b4f0" shape-rendering="crispEdges" d="M781 1485h7v7h-7zM664 1506h7v6h-7zM589 1512h6v7h-6zM630 1554h7v6h-7zM747 1560h7v7h-7zM637 1567h7v7h-7zM678 1601h7v7h-7z"/>
<path fill="#1ebe00" shape-rendering="crispEdges" d="M713 1492h6v7h-6zM685 1512h7v7h-7zM754 1519h7v7h-7zM685 1567h7v7h-7z"/>
<path fill="#28be00" shape-rendering="crispEdges" d="M719 1492h7v7h-7zM740 1540h7v7h-7zM713 1560h6v7h-6z"/>
<path fill="#41c300" shape-rendering="crispEdges" d="M726 1492h7v7h-7zM740 1533h7v7h-7zM726 1547h7v7h-7zM699 1560h7v7h-7z"/>
<path fill="#3cc300" shape-rendering="crispEdges" d="M733 1492h14v7h-14zM747 1519h7v7h-7zM685 1560h7v7h-7zM706 1560h7v7h-7z"/>
<path fill="#19be00" shape-rendering="crispEdges" d="M747 1492h7v7h-7zM754 1499h7v7h-7zM692 1506h7v6h-7zM678 1519h7v7h-7zM671 1533h7v7h-7zM747 1533h7v7h-7zM733 1547h7v7h-7zM671 1560h7v7h-7z"/>
<path fill="#bec8eb" shape-rendering="crispEdges" d="M788 1492h7v7h-7zM788 1519h7v7h-7zM623 1533h7v7h-7zM589 1588h6v7h-6zM644 1608h7v7h-7zM657 1643h7v6h-7z"/>
<path fill="#a5bef0" shape-rendering="crispEdges" d="M664 1499h7v7h-7zM589 1533h6v7h-6zM768 1540h6v7h-6zM637 1547h7v7h-7zM747 1567h7v7h-7zM733 1574h7v7h-7zM644 1595h7v6h-7zM671 1643h7v6h-7zM685 1643h7v6h-7z"/>
<path fill="#37c300" shape-rendering="crispEdges" d="M706 1499h7v7h-7zM747 1526h7v7h-7zM678 1560h7v7h-7z"/>
<path fill="#55c800" shape-rendering="crispEdges" d="M713 1499h13v7h-13zM747 1506h7v6h-7z"/>
<path fill="#7dd200" shape-rendering="crispEdges" d="M726 1499h7v7h-7zM706 1554h7v6h-7z"/>
<path fill="#73cd00" shape-rendering="crispEdges" d="M733 1499h7v7h-7z"/>
<path fill="#5ac800" shape-rendering="crispEdges" d="M740 1499h7v7h-7z"/>
<path fill="#46c300" shape-rendering="crispEdges" d="M747 1499h7v7h-7zM699 1506h7v6h-7zM678 1554h7v6h-7zM719 1554h7v6h-7zM692 1560h7v7h-7z"/>
<path fill="#739bf0" shape-rendering="crispEdges" d="M774 1499h7v7h-7zM644 1560h7v7h-7zM651 1581h6v7h-6z"/>
<path fill="#6ecd00" shape-rendering="crispEdges" d="M706 1506h7v6h-7zM685 1554h7v6h-7z"/>
<path fill="#9bd700" shape-rendering="crispEdges" d="M713 1506h6v6h-6z"/>
<path fill="#aadc00" shape-rendering="crispEdges" d="M719 1506h7v6h-7zM733 1506h7v6h-7zM719 1540h7v7h-7z"/>
<path fill="#a0dc00" shape-rendering="crispEdges" d="M726 1506h7v6h-7zM706 1512h7v7h-7z"/>
<path fill="#87d200" shape-rendering="crispEdges" d="M740 1506h7v6h-7zM726 1540h7v7h-7zM692 1554h14v6h-14z"/>
<path fill="#2dc300" shape-rendering="crispEdges" d="M754 1506h7v6h-7zM671 1540h7v7h-7z"/>
<path fill="#00b900" shape-rendering="crispEdges" d="M671 1512h7v7h-7zM761 1512h7v7h-7zM657 1567h7v7h-7zM657 1574h7v7h-7zM671 1581h7v7h-7z"/>
<path fill="#50c800" shape-rendering="crispEdges" d="M692 1512h7v7h-7zM678 1540h7v7h-7zM678 1547h7v7h-7z"/>
<path fill="#8cd700" shape-rendering="crispEdges" d="M699 1512h7v7h-7z"/>
<path fill="#d7eb00" shape-rendering="crispEdges" d="M713 1512h6v7h-6z"/>
<path fill="#e6f500" shape-rendering="crispEdges" d="M719 1512h7v7h-7zM726 1519h7v7h-7zM699 1533h7v7h-7zM713 1540h6v7h-6z"/>
<path fill="#ebf500" shape-rendering="crispEdges" d="M726 1512h7v7h-7zM699 1526h7v7h-7z"/>
<path fill="#d2eb00" shape-rendering="crispEdges" d="M733 1512h7v7h-7zM733 1519h7v7h-7zM692 1533h7v7h-7zM699 1547h14v7h-14z"/>
<path fill="#a5dc00" shape-rendering="crispEdges" d="M740 1512h7v7h-7zM699 1519h7v7h-7zM692 1547h7v7h-7z"/>
<path fill="#64cd00" shape-rendering="crispEdges" d="M747 1512h7v7h-7z"/>
<path fill="#2dbe00" shape-rendering="crispEdges" d="M754 1512h7v7h-7zM671 1547h7v7h-7zM671 1554h7v6h-7z"/>
<path fill="#6e9bf5" shape-rendering="crispEdges" d="M774 1512h7v7h-7z"/>
<path fill="#4bc300" shape-rendering="crispEdges" d="M685 1519h7v7h-7zM733 1540h7v7h-7z"/>
<path fill="#69cd00" shape-rendering="crispEdges" d="M692 1519h7v7h-7zM713 1554h6v6h-6z"/>
<path fill="#dcf000" shape-rendering="crispEdges" d="M706 1519h7v7h-7z"/>
<path fill="#ffdc00" shape-rendering="crispEdges" d="M713 1519h6v7h-6z"/>
<path fill="#ffe100" shape-rendering="crispEdges" d="M719 1519h7v7h-7z"/>
<path fill="#96d700" shape-rendering="crispEdges" d="M740 1519h7v7h-7zM713 1547h6v7h-6z"/>
<path fill="#5587f5" shape-rendering="crispEdges" d="M657 1526h7v7h-7zM651 1540h6v7h-6zM651 1574h6v7h-6z"/>
<path fill="#32c300" shape-rendering="crispEdges" d="M678 1526h7v7h-7z"/>
<path fill="#78cd00" shape-rendering="crispEdges" d="M685 1526h7v7h-7z"/>
<path fill="#bee600" shape-rendering="crispEdges" d="M692 1526h7v7h-7z"/>
<path fill="#fff500" shape-rendering="crispEdges" d="M706 1526h7v7h-7z"/>
<path fill="#ffeb00" shape-rendering="crispEdges" d="M713 1526h6v7h-6z"/>
<path fill="#fffa00" shape-rendering="crispEdges" d="M719 1526h7v7h-7z"/>
<path fill="#e1f000" shape-rendering="crispEdges" d="M726 1526h7v7h-7zM699 1540h7v7h-7z"/>
<path fill="#afe100" shape-rendering="crispEdges" d="M733 1526h7v7h-7z"/>
<path fill="#5fc800" shape-rendering="crispEdges" d="M740 1526h7v7h-7z"/>
<path fill="#5f8cf5" shape-rendering="crispEdges" d="M761 1526h7v7h-7z"/>
<path fill="#4bc800" shape-rendering="crispEdges" d="M678 1533h7v7h-7z"/>
<path fill="#82d200" shape-rendering="crispEdges" d="M685 1533h7v7h-7zM733 1533h7v7h-7zM685 1540h7v7h-7zM719 1547h7v7h-7z"/>
<path fill="#ffd700" shape-rendering="crispEdges" d="M706 1533h7v7h-7z"/>
<path fill="#fff000" shape-rendering="crispEdges" d="M713 1533h6v7h-6z"/>
<path fill="#ffff00" shape-rendering="crispEdges" d="M719 1533h7v7h-7z"/>
<path fill="#d7f000" shape-rendering="crispEdges" d="M726 1533h7v7h-7z"/>
<path fill="#8caff0" shape-rendering="crispEdges" d="M637 1540h7v7h-7zM678 1643h7v6h-7z"/>
<path fill="#b4e100" shape-rendering="crispEdges" d="M692 1540h7v7h-7z"/>
<path fill="#faff00" shape-rendering="crispEdges" d="M706 1540h7v7h-7z"/>
<path fill="#78d200" shape-rendering="crispEdges" d="M685 1547h7v7h-7z"/>
<path fill="#14be00" shape-rendering="crispEdges" d="M657 1554h7v6h-7zM726 1554h7v6h-7zM671 1567h14v7h-14zM699 1567h7v7h-7zM713 1567h6v7h-6zM685 1574h7v7h-7z"/>
<path fill="#23be00" shape-rendering="crispEdges" d="M692 1567h7v7h-7z"/>
<path fill="#afbef0" shape-rendering="crispEdges" d="M589 1574h6v7h-6z"/>
<path fill="#4b87f5" shape-rendering="crispEdges" d="M678 1581h7v7h-7z"/>
<path fill="#9bb9f0" shape-rendering="crispEdges" d="M657 1595h7v6h-7z"/>
<g transform="translate(715.0,1529.5) rotate(-40.0)" fill="none">
<ellipse rx="92.0" ry="66.0" stroke="#5a5a5a" stroke-width="1.0" stroke-opacity="0.75"/>
<ellipse rx="77.3" ry="55.4" stroke="#5a5a5a" stroke-width="1.0" stroke-opacity="0.75"/>
<ellipse rx="68.6" ry="49.2" stroke="#5a5a5a" stroke-width="1.0" stroke-opacity="0.75"/>
<ellipse rx="63.9" ry="45.9" stroke="#1a1a00" stroke-width="0.95" stroke-opacity="0.33"/>
<ellipse rx="59.3" ry="42.6" stroke="#1a1a00" stroke-width="0.95" stroke-opacity="0.33"/>
<ellipse rx="54.5" ry="39.1" stroke="#1a1a00" stroke-width="0.95" stroke-opacity="0.33"/>
<ellipse rx="48.7" ry="34.9" stroke="#1a1a00" stroke-width="0.95" stroke-opacity="0.33"/>
<ellipse rx="43.2" ry="31.0" stroke="#1a1a00" stroke-width="0.95" stroke-opacity="0.33"/>
<ellipse rx="38.0" ry="27.3" stroke="#1a1a00" stroke-width="0.95" stroke-opacity="0.33"/>
<ellipse rx="32.1" ry="23.0" stroke="#1a1a00" stroke-width="0.95" stroke-opacity="0.33"/>
<ellipse rx="26.3" ry="18.9" stroke="#1a1a00" stroke-width="0.95" stroke-opacity="0.33"/>
<ellipse rx="20.4" ry="14.7" stroke="#1a1a00" stroke-width="0.95" stroke-opacity="0.33"/>
<ellipse rx="15.5" ry="11.2" stroke="#1a1a00" stroke-width="0.95" stroke-opacity="0.33"/>
<ellipse rx="10.1" ry="7.3" stroke="#1a1a00" stroke-width="0.95" stroke-opacity="0.33"/>
</g>
<circle cx="716.0" cy="1528.5" r="5.2" fill="#d00000"/>
<rect x="588.6" y="1375.5" width="275.4" height="273.9000000000001" fill="none" stroke="#aaa" stroke-width="1.2" stroke-dasharray="3 1"/>
<text x="268.0" y="1063.0" font-size="23" font-family="'Liberation Serif', serif" font-weight="bold" fill="#111" textLength="121" lengthAdjust="spacingAndGlyphs"><tspan font-weight="normal">&#916;</tspan><tspan font-style="italic">t</tspan><tspan font-weight="normal" font-size="25"> = </tspan>0. 8 ms</text>
<text x="472.3" y="1064.5" font-size="23.5" text-anchor="start" font-weight="bold" font-style="normal" fill="#000" font-family="'Liberation Sans', sans-serif" textLength="45.2" lengthAdjust="spacingAndGlyphs" >free</text>
<text x="332.3" y="1287.8" font-size="23" font-family="'Liberation Serif', serif" font-weight="bold" fill="#777" fill-opacity="0.35" textLength="188.0" lengthAdjust="spacingAndGlyphs">(0.&#8201;0287, &#8722;0.&#8201;1432)</text>
<text x="330.7" y="1286.0" font-size="23" font-family="'Liberation Serif', serif" font-weight="bold" fill="#e41a1a" textLength="188.0" lengthAdjust="spacingAndGlyphs">(0.&#8201;0287, &#8722;0.&#8201;1432)</text>
<text transform="translate(225.20,1062.10) skewX(-6) scale(1.1,1)" font-size="33.5" font-weight="bold" font-style="italic" font-family="'Liberation Serif', serif" fill="#000">&#952;</text>
<g transform="translate(501.00,1313.00) scale(1.028,1.000) translate(-221.3,-35)"><path d="M221.2 58.9 L226.9 58.9 L243.4 37.2 Q244.3 35.3 242.3 35.3 L238.9 35.3 Z" fill="#000"/><path d="M226 38.4 C227.2 35.6 231.2 34.6 232.1 40 L232.7 50 C233.3 57.6 236.8 59.6 239.5 56" stroke="#000" stroke-width="2.0" stroke-linecap="round" fill="none"/></g>
<text x="395.5" y="1332.5" font-size="14" text-anchor="middle" font-weight="bold" font-style="normal" fill="#222" font-family="'Liberation Sans', sans-serif" textLength="163.6" lengthAdjust="spacingAndGlyphs" >log (displacement) [mrad]</text>
<text transform="translate(244.8,1165.3) rotate(-90)" font-size="14" font-weight="bold" text-anchor="middle" font-family="'Liberation Sans', sans-serif" fill="#222" textLength="148.6" lengthAdjust="spacingAndGlyphs">log (displacement) [mrad]</text>
<text x="263.3" y="1321.0" font-size="14" text-anchor="middle" font-weight="bold" font-style="normal" fill="#222" font-family="'Liberation Sans', sans-serif" >-2</text>
<text transform="translate(257.5,1304.0) rotate(-90)" font-size="14" font-weight="bold" text-anchor="middle" font-family="'Liberation Sans', sans-serif" fill="#222">-2</text>
<text x="332.1" y="1321.0" font-size="14" text-anchor="middle" font-weight="bold" font-style="normal" fill="#222" font-family="'Liberation Sans', sans-serif" >-1</text>
<text transform="translate(257.5,1235.5) rotate(-90)" font-size="14" font-weight="bold" text-anchor="middle" font-family="'Liberation Sans', sans-serif" fill="#222">-1</text>
<text x="400.9" y="1321.0" font-size="14" text-anchor="middle" font-weight="bold" font-style="normal" fill="#222" font-family="'Liberation Sans', sans-serif" >0</text>
<text transform="translate(257.5,1167.0) rotate(-90)" font-size="14" font-weight="bold" text-anchor="middle" font-family="'Liberation Sans', sans-serif" fill="#222">0</text>
<text x="469.7" y="1321.0" font-size="14" text-anchor="middle" font-weight="bold" font-style="normal" fill="#222" font-family="'Liberation Sans', sans-serif" >1</text>
<text transform="translate(257.5,1098.5) rotate(-90)" font-size="14" font-weight="bold" text-anchor="middle" font-family="'Liberation Sans', sans-serif" fill="#222">1</text>
<text x="596.5" y="1063.1" font-size="23" font-family="'Liberation Serif', serif" font-weight="bold" fill="#111" textLength="121" lengthAdjust="spacingAndGlyphs"><tspan font-weight="normal">&#916;</tspan><tspan font-style="italic">t</tspan><tspan font-weight="normal" font-size="25"> = </tspan>0. 8 ms</text>
<text x="796.0" y="1064.6" font-size="23.5" text-anchor="start" font-weight="bold" font-style="normal" fill="#000" font-family="'Liberation Sans', sans-serif" textLength="51.0" lengthAdjust="spacingAndGlyphs" >ACh</text>
<text x="658.0" y="1287.3" font-size="23" font-family="'Liberation Serif', serif" font-weight="bold" fill="#777" fill-opacity="0.35" textLength="204.0" lengthAdjust="spacingAndGlyphs">(&#8722;0.&#8201;1395, &#8722;0.&#8201;2739)</text>
<text x="656.4" y="1285.5" font-size="23" font-family="'Liberation Serif', serif" font-weight="bold" fill="#e41a1a" textLength="204.0" lengthAdjust="spacingAndGlyphs">(&#8722;0.&#8201;1395, &#8722;0.&#8201;2739)</text>
<text transform="translate(553.70,1062.20) skewX(-6) scale(1.1,1)" font-size="33.5" font-weight="bold" font-style="italic" font-family="'Liberation Serif', serif" fill="#000">&#952;</text>
<g transform="translate(830.30,1312.90) scale(1.028,1.000) translate(-221.3,-35)"><path d="M221.2 58.9 L226.9 58.9 L243.4 37.2 Q244.3 35.3 242.3 35.3 L238.9 35.3 Z" fill="#000"/><path d="M226 38.4 C227.2 35.6 231.2 34.6 232.1 40 L232.7 50 C233.3 57.6 236.8 59.6 239.5 56" stroke="#000" stroke-width="2.0" stroke-linecap="round" fill="none"/></g>
<text x="725.3" y="1332.4" font-size="14" text-anchor="middle" font-weight="bold" font-style="normal" fill="#222" font-family="'Liberation Sans', sans-serif" textLength="163.6" lengthAdjust="spacingAndGlyphs" >log (displacement) [mrad]</text>
<text transform="translate(573.3,1165.4) rotate(-90)" font-size="14" font-weight="bold" text-anchor="middle" font-family="'Liberation Sans', sans-serif" fill="#222" textLength="148.6" lengthAdjust="spacingAndGlyphs">log (displacement) [mrad]</text>
<text x="592.4" y="1320.9" font-size="14" text-anchor="middle" font-weight="bold" font-style="normal" fill="#222" font-family="'Liberation Sans', sans-serif" >-2</text>
<text transform="translate(586.0,1304.1) rotate(-90)" font-size="14" font-weight="bold" text-anchor="middle" font-family="'Liberation Sans', sans-serif" fill="#222">-2</text>
<text x="661.2" y="1320.9" font-size="14" text-anchor="middle" font-weight="bold" font-style="normal" fill="#222" font-family="'Liberation Sans', sans-serif" >-1</text>
<text transform="translate(586.0,1235.6) rotate(-90)" font-size="14" font-weight="bold" text-anchor="middle" font-family="'Liberation Sans', sans-serif" fill="#222">-1</text>
<text x="730.0" y="1320.9" font-size="14" text-anchor="middle" font-weight="bold" font-style="normal" fill="#222" font-family="'Liberation Sans', sans-serif" >0</text>
<text transform="translate(586.0,1167.1) rotate(-90)" font-size="14" font-weight="bold" text-anchor="middle" font-family="'Liberation Sans', sans-serif" fill="#222">0</text>
<text x="798.8" y="1320.9" font-size="14" text-anchor="middle" font-weight="bold" font-style="normal" fill="#222" font-family="'Liberation Sans', sans-serif" >1</text>
<text transform="translate(586.0,1098.6) rotate(-90)" font-size="14" font-weight="bold" text-anchor="middle" font-family="'Liberation Sans', sans-serif" fill="#222">1</text>
<text x="268.2" y="1406.0" font-size="23" font-family="'Liberation Serif', serif" font-weight="bold" fill="#111" textLength="121" lengthAdjust="spacingAndGlyphs"><tspan font-weight="normal">&#916;</tspan><tspan font-style="italic">t</tspan><tspan font-weight="normal" font-size="25"> = </tspan>0. 8 ms</text>
<text x="476.0" y="1407.5" font-size="23.5" text-anchor="start" font-weight="bold" font-style="normal" fill="#000" font-family="'Liberation Sans', sans-serif" textLength="42.5" lengthAdjust="spacingAndGlyphs" >IVM</text>
<text x="332.1" y="1636.8" font-size="23" font-family="'Liberation Serif', serif" font-weight="bold" fill="#777" fill-opacity="0.35" textLength="204.5" lengthAdjust="spacingAndGlyphs">(&#8722;0.&#8201;1600, &#8722;0.&#8201;2645)</text>
<text x="330.5" y="1635.0" font-size="23" font-family="'Liberation Serif', serif" font-weight="bold" fill="#e41a1a" textLength="204.5" lengthAdjust="spacingAndGlyphs">(&#8722;0.&#8201;1600, &#8722;0.&#8201;2645)</text>
<text transform="translate(225.40,1405.10) skewX(-6) scale(1.1,1)" font-size="33.5" font-weight="bold" font-style="italic" font-family="'Liberation Serif', serif" fill="#000">&#952;</text>
<g transform="translate(501.70,1654.50) scale(1.028,1.000) translate(-221.3,-35)"><path d="M221.2 58.9 L226.9 58.9 L243.4 37.2 Q244.3 35.3 242.3 35.3 L238.9 35.3 Z" fill="#000"/><path d="M226 38.4 C227.2 35.6 231.2 34.6 232.1 40 L232.7 50 C233.3 57.6 236.8 59.6 239.5 56" stroke="#000" stroke-width="2.0" stroke-linecap="round" fill="none"/></g>
<text x="395.7" y="1674.0" font-size="14" text-anchor="middle" font-weight="bold" font-style="normal" fill="#222" font-family="'Liberation Sans', sans-serif" textLength="163.6" lengthAdjust="spacingAndGlyphs" >log (displacement) [mrad]</text>
<text transform="translate(245.0,1508.3) rotate(-90)" font-size="14" font-weight="bold" text-anchor="middle" font-family="'Liberation Sans', sans-serif" fill="#222" textLength="148.6" lengthAdjust="spacingAndGlyphs">log (displacement) [mrad]</text>
<text x="263.8" y="1662.5" font-size="14" text-anchor="middle" font-weight="bold" font-style="normal" fill="#222" font-family="'Liberation Sans', sans-serif" >-2</text>
<text transform="translate(257.7,1647.0) rotate(-90)" font-size="14" font-weight="bold" text-anchor="middle" font-family="'Liberation Sans', sans-serif" fill="#222">-2</text>
<text x="332.6" y="1662.5" font-size="14" text-anchor="middle" font-weight="bold" font-style="normal" fill="#222" font-family="'Liberation Sans', sans-serif" >-1</text>
<text transform="translate(257.7,1578.5) rotate(-90)" font-size="14" font-weight="bold" text-anchor="middle" font-family="'Liberation Sans', sans-serif" fill="#222">-1</text>
<text x="401.4" y="1662.5" font-size="14" text-anchor="middle" font-weight="bold" font-style="normal" fill="#222" font-family="'Liberation Sans', sans-serif" >0</text>
<text transform="translate(257.7,1510.0) rotate(-90)" font-size="14" font-weight="bold" text-anchor="middle" font-family="'Liberation Sans', sans-serif" fill="#222">0</text>
<text x="470.2" y="1662.5" font-size="14" text-anchor="middle" font-weight="bold" font-style="normal" fill="#222" font-family="'Liberation Sans', sans-serif" >1</text>
<text transform="translate(257.7,1441.5) rotate(-90)" font-size="14" font-weight="bold" text-anchor="middle" font-family="'Liberation Sans', sans-serif" fill="#222">1</text>
<text x="597.1" y="1406.0" font-size="23" font-family="'Liberation Serif', serif" font-weight="bold" fill="#111" textLength="121" lengthAdjust="spacingAndGlyphs"><tspan font-weight="normal">&#916;</tspan><tspan font-style="italic">t</tspan><tspan font-weight="normal" font-size="25"> = </tspan>0. 8 ms</text>
<text x="741.1" y="1407.5" font-size="23.5" text-anchor="start" font-weight="bold" font-style="normal" fill="#000" font-family="'Liberation Sans', sans-serif" textLength="105.9" lengthAdjust="spacingAndGlyphs" >ACh+IVM</text>
<text x="651.1" y="1633.8" font-size="23" font-family="'Liberation Serif', serif" font-weight="bold" fill="#777" fill-opacity="0.35" textLength="205.5" lengthAdjust="spacingAndGlyphs">(&#8722;0.&#8201;2187, &#8722;0.&#8201;2806)</text>
<text x="649.5" y="1632.0" font-size="23" font-family="'Liberation Serif', serif" font-weight="bold" fill="#e41a1a" textLength="205.5" lengthAdjust="spacingAndGlyphs">(&#8722;0.&#8201;2187, &#8722;0.&#8201;2806)</text>
<text transform="translate(554.30,1405.10) skewX(-6) scale(1.1,1)" font-size="33.5" font-weight="bold" font-style="italic" font-family="'Liberation Serif', serif" fill="#000">&#952;</text>
<g transform="translate(830.30,1654.90) scale(1.028,1.000) translate(-221.3,-35)"><path d="M221.2 58.9 L226.9 58.9 L243.4 37.2 Q244.3 35.3 242.3 35.3 L238.9 35.3 Z" fill="#000"/><path d="M226 38.4 C227.2 35.6 231.2 34.6 232.1 40 L232.7 50 C233.3 57.6 236.8 59.6 239.5 56" stroke="#000" stroke-width="2.0" stroke-linecap="round" fill="none"/></g>
<text x="730.6" y="1674.4" font-size="14" text-anchor="middle" font-weight="bold" font-style="normal" fill="#222" font-family="'Liberation Sans', sans-serif" textLength="163.6" lengthAdjust="spacingAndGlyphs" >log (displacement) [mrad]</text>
<text transform="translate(573.9,1508.3) rotate(-90)" font-size="14" font-weight="bold" text-anchor="middle" font-family="'Liberation Sans', sans-serif" fill="#222" textLength="148.6" lengthAdjust="spacingAndGlyphs">log (displacement) [mrad]</text>
<text x="599.3" y="1662.9" font-size="14" text-anchor="middle" font-weight="bold" font-style="normal" fill="#222" font-family="'Liberation Sans', sans-serif" >-2</text>
<text transform="translate(586.6,1647.0) rotate(-90)" font-size="14" font-weight="bold" text-anchor="middle" font-family="'Liberation Sans', sans-serif" fill="#222">-2</text>
<text x="668.1" y="1662.9" font-size="14" text-anchor="middle" font-weight="bold" font-style="normal" fill="#222" font-family="'Liberation Sans', sans-serif" >-1</text>
<text transform="translate(586.6,1578.5) rotate(-90)" font-size="14" font-weight="bold" text-anchor="middle" font-family="'Liberation Sans', sans-serif" fill="#222">-1</text>
<text x="736.9" y="1662.9" font-size="14" text-anchor="middle" font-weight="bold" font-style="normal" fill="#222" font-family="'Liberation Sans', sans-serif" >0</text>
<text transform="translate(586.6,1510.0) rotate(-90)" font-size="14" font-weight="bold" text-anchor="middle" font-family="'Liberation Sans', sans-serif" fill="#222">0</text>
<text x="805.7" y="1662.9" font-size="14" text-anchor="middle" font-weight="bold" font-style="normal" fill="#222" font-family="'Liberation Sans', sans-serif" >1</text>
<text transform="translate(586.6,1441.5) rotate(-90)" font-size="14" font-weight="bold" text-anchor="middle" font-family="'Liberation Sans', sans-serif" fill="#222">1</text>
<line x1="265.0" y1="1371.5" x2="265.0" y2="1374.0" stroke="#666" stroke-width="1.2" />
<line x1="336.0" y1="1371.5" x2="336.0" y2="1374.0" stroke="#666" stroke-width="1.2" />
<line x1="401.0" y1="1371.5" x2="401.0" y2="1374.0" stroke="#666" stroke-width="1.2" />
<line x1="471.0" y1="1371.5" x2="471.0" y2="1374.0" stroke="#666" stroke-width="1.2" />
<line x1="592.5" y1="1371.5" x2="592.5" y2="1374.0" stroke="#666" stroke-width="1.2" />
<line x1="665.4" y1="1371.5" x2="665.4" y2="1374.0" stroke="#666" stroke-width="1.2" />
<line x1="730.5" y1="1371.5" x2="730.5" y2="1374.0" stroke="#666" stroke-width="1.2" />
<line x1="800.4" y1="1371.5" x2="800.4" y2="1374.0" stroke="#666" stroke-width="1.2" />
<line x1="263.0" y1="1372.5" x2="270.0" y2="1372.5" stroke="#888" stroke-width="1" />
<line x1="591.0" y1="1372.5" x2="598.0" y2="1372.5" stroke="#888" stroke-width="1" />
<rect x="931.5" y="1125.5" width="83" height="435" fill="#fff" stroke="#999" stroke-width="1.3"/>
<defs><linearGradient id="cb" x1="0" y1="1" x2="0" y2="0"><stop offset="0.0000" stop-color="rgb(226, 226, 232)"/><stop offset="0.1250" stop-color="rgb(150, 178, 240)"/><stop offset="0.2499" stop-color="rgb(70, 128, 245)"/><stop offset="0.2500" stop-color="rgb(0, 185, 0)"/><stop offset="0.3500" stop-color="rgb(30, 190, 0)"/><stop offset="0.4625" stop-color="rgb(90, 200, 0)"/><stop offset="0.5500" stop-color="rgb(150, 215, 0)"/><stop offset="0.6375" stop-color="rgb(210, 235, 0)"/><stop offset="0.7562" stop-color="rgb(255, 255, 0)"/><stop offset="0.8063" stop-color="rgb(255, 220, 0)"/><stop offset="0.8688" stop-color="rgb(255, 140, 0)"/><stop offset="1.0000" stop-color="rgb(255, 0, 0)"/></linearGradient></defs>
<rect x="935" y="1136.6" width="14" height="412.5" fill="url(#cb)" stroke="#777" stroke-width="1"/>
<line x1="949.0" y1="1549.1" x2="960.5" y2="1549.1" stroke="#555" stroke-width="1.5" />
<text x="968.0" y="1556.1" font-size="19" text-anchor="start" font-weight="bold" font-style="normal" fill="#111" font-family="'Liberation Sans', sans-serif" >0</text>
<line x1="949.0" y1="1446.0" x2="960.5" y2="1446.0" stroke="#555" stroke-width="1.5" />
<text x="968.0" y="1453.0" font-size="19" text-anchor="start" font-weight="bold" font-style="normal" fill="#111" font-family="'Liberation Sans', sans-serif" >2</text>
<line x1="949.0" y1="1342.9" x2="960.5" y2="1342.9" stroke="#555" stroke-width="1.5" />
<text x="968.0" y="1349.9" font-size="19" text-anchor="start" font-weight="bold" font-style="normal" fill="#111" font-family="'Liberation Sans', sans-serif" >4</text>
<line x1="949.0" y1="1239.7" x2="960.5" y2="1239.7" stroke="#555" stroke-width="1.5" />
<text x="968.0" y="1246.7" font-size="19" text-anchor="start" font-weight="bold" font-style="normal" fill="#111" font-family="'Liberation Sans', sans-serif" >6</text>
<line x1="949.0" y1="1136.6" x2="960.5" y2="1136.6" stroke="#555" stroke-width="1.5" />
<text x="968.0" y="1143.6" font-size="19" text-anchor="start" font-weight="bold" font-style="normal" fill="#111" font-family="'Liberation Sans', sans-serif" >8</text>
<text transform="translate(988.5,1322) rotate(90)" font-size="19.5" font-weight="bold" text-anchor="start" font-family="'Liberation Sans', sans-serif" fill="#111">x10<tspan dx="1" dy="-11" font-size="14">3</tspan></text>
</svg>
</body></html>
